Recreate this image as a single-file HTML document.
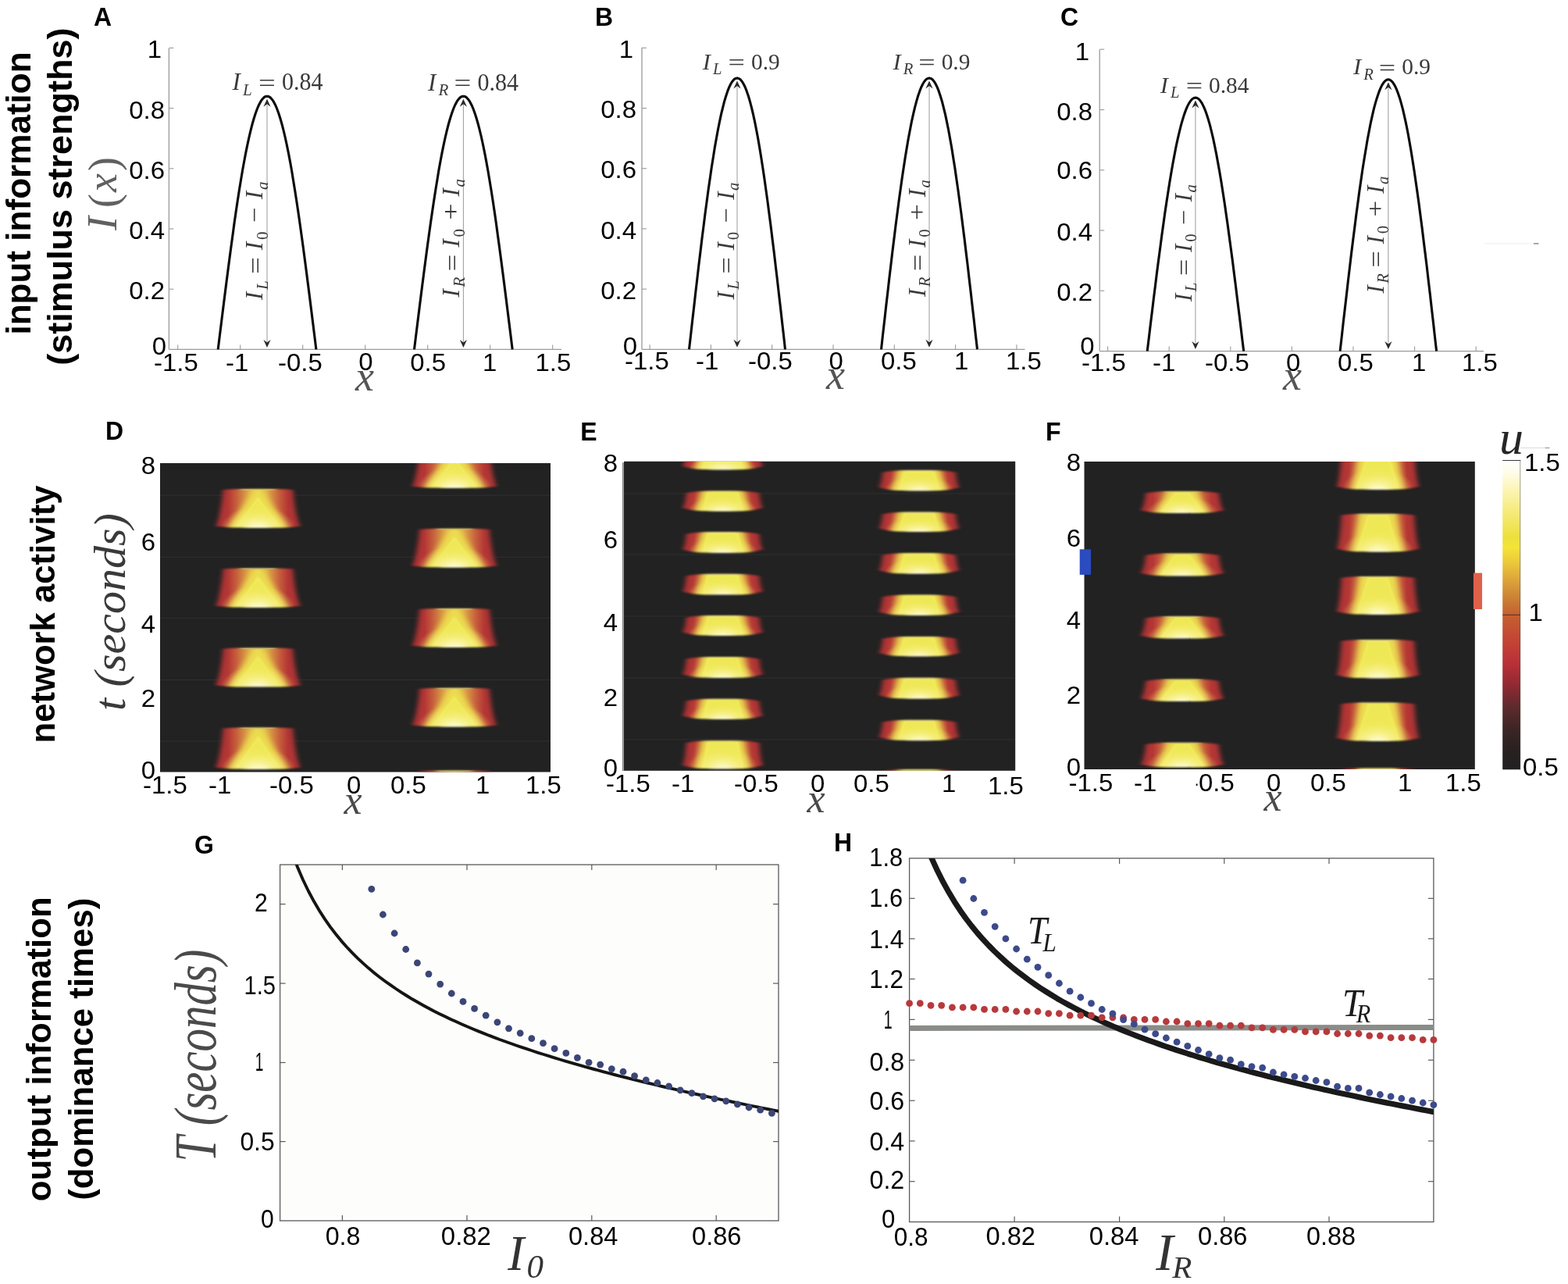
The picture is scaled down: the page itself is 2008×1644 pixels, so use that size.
<!DOCTYPE html>
<html><head><meta charset="utf-8"><title>Figure</title>
<style>
html,body{margin:0;padding:0;background:#fff;}
body{width:2008px;height:1644px;overflow:hidden;}
svg{display:block;}
</style></head>
<body>
<svg width="2008" height="1644" viewBox="0 0 2008 1644">
<rect width="2008" height="1644" fill="#ffffff"/>

<defs>
<linearGradient id="gh" x1="0" y1="0" x2="1" y2="0">
<stop offset="0" stop-color="#9c2e30"/>
<stop offset="0.08" stop-color="#b03436"/>
<stop offset="0.18" stop-color="#b43634"/>
<stop offset="0.27" stop-color="#c65e3c"/>
<stop offset="0.35" stop-color="#d48c42"/>
<stop offset="0.42" stop-color="#e2b448"/>
<stop offset="0.50" stop-color="#eacc4c"/>
<stop offset="0.58" stop-color="#e2b448"/>
<stop offset="0.65" stop-color="#d48c42"/>
<stop offset="0.73" stop-color="#c65e3c"/>
<stop offset="0.82" stop-color="#b43634"/>
<stop offset="0.92" stop-color="#b03436"/>
<stop offset="1" stop-color="#9c2e30"/>
</linearGradient>
<linearGradient id="gy" x1="0" y1="0" x2="1" y2="0">
<stop offset="0" stop-color="#f0e048" stop-opacity="0"/>
<stop offset="0.22" stop-color="#f0e048" stop-opacity="1"/>
<stop offset="0.78" stop-color="#f0e048" stop-opacity="1"/>
<stop offset="1" stop-color="#f0e048" stop-opacity="0"/>
</linearGradient>
<radialGradient id="gw" cx="0.5" cy="1" r="0.5" gradientTransform="translate(0.5 1) scale(1 1.5) translate(-0.5 -1)">
<stop offset="0" stop-color="#fffde4" stop-opacity="1"/>
<stop offset="0.2" stop-color="#fdf9c0" stop-opacity="0.95"/>
<stop offset="0.45" stop-color="#f9f294" stop-opacity="0.75"/>
<stop offset="0.75" stop-color="#f5ec70" stop-opacity="0.35"/>
<stop offset="1" stop-color="#f2e858" stop-opacity="0"/>
</radialGradient>
<linearGradient id="gcb" x1="0" y1="0" x2="0" y2="1">
<stop offset="0" stop-color="#ffffff"/>
<stop offset="0.04" stop-color="#fffce8"/>
<stop offset="0.10" stop-color="#fcf4b0"/>
<stop offset="0.18" stop-color="#f4e870"/>
<stop offset="0.25" stop-color="#ece03c"/>
<stop offset="0.28" stop-color="#f4e438"/>
<stop offset="0.33" stop-color="#ecc83c"/>
<stop offset="0.40" stop-color="#d89c3a"/>
<stop offset="0.46" stop-color="#c87834"/>
<stop offset="0.50" stop-color="#c46030"/>
<stop offset="0.58" stop-color="#c44434"/>
<stop offset="0.66" stop-color="#b83038"/>
<stop offset="0.72" stop-color="#942a34"/>
<stop offset="0.80" stop-color="#5c2a2c"/>
<stop offset="0.88" stop-color="#382424"/>
<stop offset="0.95" stop-color="#262020"/>
<stop offset="1" stop-color="#222222"/>
</linearGradient>
<filter id="bl" x="-10%" y="-20%" width="120%" height="140%"><feGaussianBlur stdDeviation="3.2 1.0"/></filter>
<filter id="bl2" x="-30%" y="-30%" width="160%" height="160%"><feGaussianBlur stdDeviation="4.5 2"/></filter>
<filter id="bl4" x="-30%" y="-300%" width="160%" height="700%"><feGaussianBlur stdDeviation="3 0.7"/></filter>
<filter id="bl3" x="-20%" y="-20%" width="140%" height="140%"><feGaussianBlur stdDeviation="0.8"/></filter>
</defs>

<text transform="translate(38.6 428.6) rotate(-90) scale(0.9797242497972424 1)" font-family='"Liberation Sans", "DejaVu Sans", sans-serif' font-size="45" font-weight="bold" font-style="normal" text-anchor="start" fill="#000" >input information</text>
<text transform="translate(91.8 467.8) rotate(-90) scale(0.9996243317439676 1)" font-family='"Liberation Sans", "DejaVu Sans", sans-serif' font-size="45" font-weight="bold" font-style="normal" text-anchor="start" fill="#000" >(stimulus strengths)</text>
<text transform="translate(70.0 951.5) rotate(-90) scale(0.9812411957762026 1)" font-family='"Liberation Sans", "DejaVu Sans", sans-serif' font-size="44.5" font-weight="bold" font-style="normal" text-anchor="start" fill="#000" >network activity</text>
<text transform="translate(64.9 1538.2) rotate(-90) scale(0.9866148327249166 1)" font-family='"Liberation Sans", "DejaVu Sans", sans-serif' font-size="44.5" font-weight="bold" font-style="normal" text-anchor="start" fill="#000" >output information</text>
<text transform="translate(118.9 1536.8) rotate(-90) scale(0.9853557416556976 1)" font-family='"Liberation Sans", "DejaVu Sans", sans-serif' font-size="44.5" font-weight="bold" font-style="normal" text-anchor="start" fill="#000" >(dominance times)</text>
<text transform="translate(120.0 33.0) scale(0.97 1)" font-family='"Liberation Sans", "DejaVu Sans", sans-serif' font-size="33" font-weight="bold" font-style="normal" text-anchor="start" fill="#000" >A</text>
<text transform="translate(762.0 33.0) scale(0.97 1)" font-family='"Liberation Sans", "DejaVu Sans", sans-serif' font-size="33" font-weight="bold" font-style="normal" text-anchor="start" fill="#000" >B</text>
<text transform="translate(1358.0 33.0) scale(0.97 1)" font-family='"Liberation Sans", "DejaVu Sans", sans-serif' font-size="33" font-weight="bold" font-style="normal" text-anchor="start" fill="#000" >C</text>
<text transform="translate(135.0 563.0) scale(0.97 1)" font-family='"Liberation Sans", "DejaVu Sans", sans-serif' font-size="33" font-weight="bold" font-style="normal" text-anchor="start" fill="#000" >D</text>
<text transform="translate(743.3 563.7) scale(0.97 1)" font-family='"Liberation Sans", "DejaVu Sans", sans-serif' font-size="33" font-weight="bold" font-style="normal" text-anchor="start" fill="#000" >E</text>
<text transform="translate(1339.0 563.7) scale(0.97 1)" font-family='"Liberation Sans", "DejaVu Sans", sans-serif' font-size="33" font-weight="bold" font-style="normal" text-anchor="start" fill="#000" >F</text>
<text transform="translate(249.0 1093.0) scale(0.97 1)" font-family='"Liberation Sans", "DejaVu Sans", sans-serif' font-size="33" font-weight="bold" font-style="normal" text-anchor="start" fill="#000" >G</text>
<text transform="translate(1068.0 1090.0) scale(0.97 1)" font-family='"Liberation Sans", "DejaVu Sans", sans-serif' font-size="33" font-weight="bold" font-style="normal" text-anchor="start" fill="#000" >H</text>
<line x1="216.4" y1="61.8" x2="216.4" y2="447.4" stroke="#9a9a9a" stroke-width="1.3" />
<line x1="216.4" y1="447.4" x2="719.0" y2="447.4" stroke="#9a9a9a" stroke-width="1.3" />
<line x1="216.4" y1="370.2" x2="222.4" y2="370.2" stroke="#9a9a9a" stroke-width="1.1" />
<line x1="216.4" y1="293.0" x2="222.4" y2="293.0" stroke="#9a9a9a" stroke-width="1.1" />
<line x1="216.4" y1="215.8" x2="222.4" y2="215.8" stroke="#9a9a9a" stroke-width="1.1" />
<line x1="216.4" y1="138.6" x2="222.4" y2="138.6" stroke="#9a9a9a" stroke-width="1.1" />
<line x1="216.4" y1="61.4" x2="222.4" y2="61.4" stroke="#9a9a9a" stroke-width="1.1" />
<line x1="227.7" y1="447.4" x2="227.7" y2="441.4" stroke="#9a9a9a" stroke-width="1.1" />
<line x1="307.7" y1="447.4" x2="307.7" y2="441.4" stroke="#9a9a9a" stroke-width="1.1" />
<line x1="387.7" y1="447.4" x2="387.7" y2="441.4" stroke="#9a9a9a" stroke-width="1.1" />
<line x1="467.7" y1="447.4" x2="467.7" y2="441.4" stroke="#9a9a9a" stroke-width="1.1" />
<line x1="547.7" y1="447.4" x2="547.7" y2="441.4" stroke="#9a9a9a" stroke-width="1.1" />
<line x1="627.7" y1="447.4" x2="627.7" y2="441.4" stroke="#9a9a9a" stroke-width="1.1" />
<line x1="707.7" y1="447.4" x2="707.7" y2="441.4" stroke="#9a9a9a" stroke-width="1.1" />
<path d="M279.2,447.4 L281.3,430.4 L283.4,413.5 L285.5,396.7 L287.6,380.0 L289.7,363.5 L291.8,347.2 L293.9,331.2 L296.0,315.5 L298.1,300.2 L300.1,285.3 L302.2,270.8 L304.3,256.8 L306.4,243.3 L308.5,230.4 L310.6,218.1 L312.7,206.4 L314.8,195.4 L316.9,185.1 L319.0,175.5 L321.1,166.6 L323.2,158.5 L325.3,151.2 L327.4,144.7 L329.5,139.0 L331.6,134.2 L333.7,130.2 L335.8,127.2 L337.8,124.9 L339.9,123.6 L342.0,123.2 L344.1,123.6 L346.2,124.9 L348.3,127.2 L350.4,130.2 L352.5,134.2 L354.6,139.0 L356.7,144.7 L358.8,151.2 L360.9,158.5 L363.0,166.6 L365.1,175.5 L367.2,185.1 L369.3,195.4 L371.4,206.4 L373.5,218.1 L375.5,230.4 L377.6,243.3 L379.7,256.8 L381.8,270.8 L383.9,285.3 L386.0,300.2 L388.1,315.5 L390.2,331.2 L392.3,347.2 L394.4,363.5 L396.5,380.0 L398.6,396.7 L400.7,413.5 L402.8,430.4 L404.9,447.4" fill="none" stroke="#0a0a0a" stroke-width="3.1" stroke-linejoin="round"/>
<line x1="342.0" y1="129.7" x2="342.0" y2="441.9" stroke="#9a9a9a" stroke-width="1.0" />
<path d="M337.4,136.7 L342.0,126.7 L346.6,136.7 L342.0,133.2 Z" fill="#2a2a2a" stroke="none"/>
<path d="M337.4,434.9 L342.0,444.9 L346.6,434.9 L342.0,438.4 Z" fill="#2a2a2a" stroke="none"/>
<path d="M530.5,447.4 L532.6,430.4 L534.7,413.5 L536.8,396.7 L538.9,380.0 L541.0,363.5 L543.1,347.2 L545.2,331.2 L547.3,315.5 L549.4,300.2 L551.5,285.3 L553.6,270.8 L555.7,256.8 L557.8,243.3 L559.9,230.4 L561.9,218.1 L564.0,206.4 L566.1,195.4 L568.2,185.1 L570.3,175.5 L572.4,166.6 L574.5,158.5 L576.6,151.2 L578.7,144.7 L580.8,139.0 L582.9,134.2 L585.0,130.2 L587.1,127.2 L589.2,124.9 L591.3,123.6 L593.4,123.2 L595.5,123.6 L597.6,124.9 L599.6,127.2 L601.7,130.2 L603.8,134.2 L605.9,139.0 L608.0,144.7 L610.1,151.2 L612.2,158.5 L614.3,166.6 L616.4,175.5 L618.5,185.1 L620.6,195.4 L622.7,206.4 L624.8,218.1 L626.9,230.4 L629.0,243.3 L631.1,256.8 L633.2,270.8 L635.3,285.3 L637.3,300.2 L639.4,315.5 L641.5,331.2 L643.6,347.2 L645.7,363.5 L647.8,380.0 L649.9,396.7 L652.0,413.5 L654.1,430.4 L656.2,447.4" fill="none" stroke="#0a0a0a" stroke-width="3.1" stroke-linejoin="round"/>
<line x1="593.4" y1="129.7" x2="593.4" y2="441.9" stroke="#9a9a9a" stroke-width="1.0" />
<path d="M588.8,136.7 L593.4,126.7 L598.0,136.7 L593.4,133.2 Z" fill="#2a2a2a" stroke="none"/>
<path d="M588.8,434.9 L593.4,444.9 L598.0,434.9 L593.4,438.4 Z" fill="#2a2a2a" stroke="none"/>
<text transform="translate(197.0 475.0) scale(1.03 1)" font-family='"Liberation Sans", "DejaVu Sans", sans-serif' font-size="32" font-weight="normal" font-style="normal" text-anchor="start" fill="#000" >-1.5</text>
<text transform="translate(289.0 475.0) scale(1.03 1)" font-family='"Liberation Sans", "DejaVu Sans", sans-serif' font-size="32" font-weight="normal" font-style="normal" text-anchor="start" fill="#000" >-1</text>
<text transform="translate(356.0 475.0) scale(1.03 1)" font-family='"Liberation Sans", "DejaVu Sans", sans-serif' font-size="32" font-weight="normal" font-style="normal" text-anchor="start" fill="#000" >-0.5</text>
<text transform="translate(459.3 474.0) scale(1.03 1)" font-family='"Liberation Sans", "DejaVu Sans", sans-serif' font-size="32" font-weight="normal" font-style="normal" text-anchor="start" fill="#000" >0</text>
<text transform="translate(525.3 475.0) scale(1.03 1)" font-family='"Liberation Sans", "DejaVu Sans", sans-serif' font-size="32" font-weight="normal" font-style="normal" text-anchor="start" fill="#000" >0.5</text>
<text transform="translate(618.0 475.0) scale(1.03 1)" font-family='"Liberation Sans", "DejaVu Sans", sans-serif' font-size="32" font-weight="normal" font-style="normal" text-anchor="start" fill="#000" >1</text>
<text transform="translate(685.4 475.0) scale(1.03 1)" font-family='"Liberation Sans", "DejaVu Sans", sans-serif' font-size="32" font-weight="normal" font-style="normal" text-anchor="start" fill="#000" >1.5</text>
<text transform="translate(207.0 74.0) scale(1.03 1)" font-family='"Liberation Sans", "DejaVu Sans", sans-serif' font-size="32" font-weight="normal" font-style="normal" text-anchor="end" fill="#000" >1</text>
<text transform="translate(211.0 151.5) scale(1.03 1)" font-family='"Liberation Sans", "DejaVu Sans", sans-serif' font-size="32" font-weight="normal" font-style="normal" text-anchor="end" fill="#000" >0.8</text>
<text transform="translate(211.0 228.5) scale(1.03 1)" font-family='"Liberation Sans", "DejaVu Sans", sans-serif' font-size="32" font-weight="normal" font-style="normal" text-anchor="end" fill="#000" >0.6</text>
<text transform="translate(211.0 306.0) scale(1.03 1)" font-family='"Liberation Sans", "DejaVu Sans", sans-serif' font-size="32" font-weight="normal" font-style="normal" text-anchor="end" fill="#000" >0.4</text>
<text transform="translate(211.0 383.0) scale(1.03 1)" font-family='"Liberation Sans", "DejaVu Sans", sans-serif' font-size="32" font-weight="normal" font-style="normal" text-anchor="end" fill="#000" >0.2</text>
<text transform="translate(213.0 454.0) scale(1.03 1)" font-family='"Liberation Sans", "DejaVu Sans", sans-serif' font-size="32" font-weight="normal" font-style="normal" text-anchor="end" fill="#000" >0</text>
<text transform="translate(467.0 500.4)" font-family='"Liberation Serif", "DejaVu Serif", serif' font-size="54" font-weight="normal" font-style="italic" text-anchor="middle" fill="#555" >x</text>
<g transform="translate(297.5 115.0)" font-family='"Liberation Serif", "DejaVu Serif", serif' fill="#3a3a3a">
<text transform="translate(0.0 0.0)" font-size="31" font-style="italic">I</text>
<text transform="translate(13.5 6.5)" font-size="21" font-style="italic">L</text>
<text transform="translate(33.5 1.5) scale(1.25 1)" font-size="31" font-style="normal">=</text>
<text transform="translate(63.5 0.0) scale(0.97 1)" font-size="31" font-style="normal">0.84</text>
</g>
<g transform="translate(548.0 115.5)" font-family='"Liberation Serif", "DejaVu Serif", serif' fill="#3a3a3a">
<text transform="translate(0.0 0.0)" font-size="31" font-style="italic">I</text>
<text transform="translate(13.5 6.5)" font-size="21" font-style="italic">R</text>
<text transform="translate(33.5 1.5) scale(1.25 1)" font-size="31" font-style="normal">=</text>
<text transform="translate(63.5 0.0) scale(0.97 1)" font-size="31" font-style="normal">0.84</text>
</g>
<g transform="translate(336.4 384.0) rotate(-90)" font-family='"Liberation Serif", "DejaVu Serif", serif' fill="#3a3a3a">
<text transform="translate(0.0 0.0)" font-size="31" font-style="italic">I</text>
<text transform="translate(13.0 6.5)" font-size="21" font-style="italic">L</text>
<text transform="translate(33.0 1.5) scale(1.25 1)" font-size="31" font-style="normal">=</text>
<text transform="translate(64.0 0.0)" font-size="31" font-style="italic">I</text>
<text transform="translate(77.0 6.5)" font-size="21" font-style="normal">0</text>
<text transform="translate(99.0 0.0) scale(1.12 1)" font-size="31" font-style="normal">−</text>
<text transform="translate(129.0 0.0)" font-size="31" font-style="italic">I</text>
<text transform="translate(141.0 6.5)" font-size="21" font-style="italic">a</text>
</g>
<g transform="translate(588.0 380.5) rotate(-90)" font-family='"Liberation Serif", "DejaVu Serif", serif' fill="#3a3a3a">
<text transform="translate(0.0 0.0)" font-size="31" font-style="italic">I</text>
<text transform="translate(13.0 6.5)" font-size="21" font-style="italic">R</text>
<text transform="translate(33.0 1.5) scale(1.25 1)" font-size="31" font-style="normal">=</text>
<text transform="translate(64.0 0.0)" font-size="31" font-style="italic">I</text>
<text transform="translate(77.0 6.5)" font-size="21" font-style="normal">0</text>
<text transform="translate(99.0 0.0) scale(1.2 1)" font-size="31" font-style="normal">+</text>
<text transform="translate(129.0 0.0)" font-size="31" font-style="italic">I</text>
<text transform="translate(141.0 6.5)" font-size="21" font-style="italic">a</text>
</g>
<g transform="translate(148.5 296.0) rotate(-90)" font-family='"Liberation Serif", "DejaVu Serif", serif' fill="#606060">
<text transform="translate(1.0 0.0)" font-size="54" font-style="italic">I</text>
<text transform="translate(30.0 2.0)" font-size="54" font-style="normal">(</text>
<text transform="translate(50.0 0.0)" font-size="54" font-style="italic">x</text>
<text transform="translate(77.0 2.0)" font-size="54" font-style="normal">)</text>
</g>
<line x1="822.0" y1="61.0" x2="822.0" y2="447.3" stroke="#9a9a9a" stroke-width="1.3" />
<line x1="822.0" y1="447.3" x2="1312.5" y2="447.3" stroke="#9a9a9a" stroke-width="1.3" />
<line x1="822.0" y1="370.1" x2="828.0" y2="370.1" stroke="#9a9a9a" stroke-width="1.1" />
<line x1="822.0" y1="292.9" x2="828.0" y2="292.9" stroke="#9a9a9a" stroke-width="1.1" />
<line x1="822.0" y1="215.7" x2="828.0" y2="215.7" stroke="#9a9a9a" stroke-width="1.1" />
<line x1="822.0" y1="138.5" x2="828.0" y2="138.5" stroke="#9a9a9a" stroke-width="1.1" />
<line x1="822.0" y1="61.3" x2="828.0" y2="61.3" stroke="#9a9a9a" stroke-width="1.1" />
<line x1="832.1" y1="447.3" x2="832.1" y2="441.3" stroke="#9a9a9a" stroke-width="1.1" />
<line x1="910.4" y1="447.3" x2="910.4" y2="441.3" stroke="#9a9a9a" stroke-width="1.1" />
<line x1="988.7" y1="447.3" x2="988.7" y2="441.3" stroke="#9a9a9a" stroke-width="1.1" />
<line x1="1067.0" y1="447.3" x2="1067.0" y2="441.3" stroke="#9a9a9a" stroke-width="1.1" />
<line x1="1145.3" y1="447.3" x2="1145.3" y2="441.3" stroke="#9a9a9a" stroke-width="1.1" />
<line x1="1223.6" y1="447.3" x2="1223.6" y2="441.3" stroke="#9a9a9a" stroke-width="1.1" />
<line x1="1301.9" y1="447.3" x2="1301.9" y2="441.3" stroke="#9a9a9a" stroke-width="1.1" />
<path d="M882.5,447.3 L884.6,429.1 L886.6,411.0 L888.7,393.0 L890.7,375.1 L892.8,357.4 L894.8,339.9 L896.9,322.8 L898.9,306.0 L901.0,289.6 L903.0,273.6 L905.1,258.1 L907.1,243.1 L909.2,228.7 L911.2,214.8 L913.3,201.7 L915.3,189.1 L917.4,177.3 L919.4,166.2 L921.5,155.9 L923.5,146.4 L925.6,137.8 L927.6,129.9 L929.7,123.0 L931.7,116.9 L933.8,111.7 L935.8,107.5 L937.9,104.2 L939.9,101.8 L942.0,100.4 L944.0,99.9 L946.1,100.4 L948.1,101.8 L950.2,104.2 L952.2,107.5 L954.3,111.7 L956.3,116.9 L958.4,123.0 L960.4,129.9 L962.5,137.8 L964.5,146.4 L966.6,155.9 L968.6,166.2 L970.7,177.3 L972.7,189.1 L974.8,201.7 L976.8,214.8 L978.9,228.7 L980.9,243.1 L983.0,258.1 L985.0,273.6 L987.1,289.6 L989.1,306.0 L991.2,322.8 L993.2,339.9 L995.3,357.4 L997.3,375.1 L999.4,393.0 L1001.4,411.0 L1003.5,429.1 L1005.5,447.3" fill="none" stroke="#0a0a0a" stroke-width="3.1" stroke-linejoin="round"/>
<line x1="944.0" y1="106.4" x2="944.0" y2="441.8" stroke="#9a9a9a" stroke-width="1.0" />
<path d="M939.4,113.4 L944.0,103.4 L948.6,113.4 L944.0,109.9 Z" fill="#2a2a2a" stroke="none"/>
<path d="M939.4,434.8 L944.0,444.8 L948.6,434.8 L944.0,438.3 Z" fill="#2a2a2a" stroke="none"/>
<path d="M1128.5,447.3 L1130.5,429.1 L1132.6,411.0 L1134.6,393.0 L1136.7,375.1 L1138.7,357.4 L1140.8,339.9 L1142.8,322.8 L1144.9,306.0 L1146.9,289.6 L1149.0,273.6 L1151.0,258.1 L1153.1,243.1 L1155.1,228.7 L1157.2,214.8 L1159.2,201.7 L1161.3,189.1 L1163.3,177.3 L1165.4,166.2 L1167.4,155.9 L1169.5,146.4 L1171.5,137.8 L1173.6,129.9 L1175.6,123.0 L1177.7,116.9 L1179.7,111.7 L1181.8,107.5 L1183.8,104.2 L1185.9,101.8 L1187.9,100.4 L1190.0,99.9 L1192.0,100.4 L1194.1,101.8 L1196.1,104.2 L1198.2,107.5 L1200.2,111.7 L1202.3,116.9 L1204.3,123.0 L1206.4,129.9 L1208.4,137.8 L1210.5,146.4 L1212.5,155.9 L1214.6,166.2 L1216.6,177.3 L1218.7,189.1 L1220.7,201.7 L1222.8,214.8 L1224.8,228.7 L1226.9,243.1 L1228.9,258.1 L1231.0,273.6 L1233.0,289.6 L1235.1,306.0 L1237.1,322.8 L1239.2,339.9 L1241.2,357.4 L1243.3,375.1 L1245.3,393.0 L1247.4,411.0 L1249.4,429.1 L1251.5,447.3" fill="none" stroke="#0a0a0a" stroke-width="3.1" stroke-linejoin="round"/>
<line x1="1190.0" y1="106.4" x2="1190.0" y2="441.8" stroke="#9a9a9a" stroke-width="1.0" />
<path d="M1185.4,113.4 L1190.0,103.4 L1194.6,113.4 L1190.0,109.9 Z" fill="#2a2a2a" stroke="none"/>
<path d="M1185.4,434.8 L1190.0,444.8 L1194.6,434.8 L1190.0,438.3 Z" fill="#2a2a2a" stroke="none"/>
<text transform="translate(800.0 473.3) scale(1.03 1)" font-family='"Liberation Sans", "DejaVu Sans", sans-serif' font-size="32" font-weight="normal" font-style="normal" text-anchor="start" fill="#000" >-1.5</text>
<text transform="translate(891.0 473.3) scale(1.03 1)" font-family='"Liberation Sans", "DejaVu Sans", sans-serif' font-size="32" font-weight="normal" font-style="normal" text-anchor="start" fill="#000" >-1</text>
<text transform="translate(958.0 473.3) scale(1.03 1)" font-family='"Liberation Sans", "DejaVu Sans", sans-serif' font-size="32" font-weight="normal" font-style="normal" text-anchor="start" fill="#000" >-0.5</text>
<text transform="translate(1061.5 473.3) scale(1.03 1)" font-family='"Liberation Sans", "DejaVu Sans", sans-serif' font-size="32" font-weight="normal" font-style="normal" text-anchor="start" fill="#000" >0</text>
<text transform="translate(1128.0 473.3) scale(1.03 1)" font-family='"Liberation Sans", "DejaVu Sans", sans-serif' font-size="32" font-weight="normal" font-style="normal" text-anchor="start" fill="#000" >0.5</text>
<text transform="translate(1222.0 473.3) scale(1.03 1)" font-family='"Liberation Sans", "DejaVu Sans", sans-serif' font-size="32" font-weight="normal" font-style="normal" text-anchor="start" fill="#000" >1</text>
<text transform="translate(1288.0 473.3) scale(1.03 1)" font-family='"Liberation Sans", "DejaVu Sans", sans-serif' font-size="32" font-weight="normal" font-style="normal" text-anchor="start" fill="#000" >1.5</text>
<text transform="translate(811.0 74.0) scale(1.03 1)" font-family='"Liberation Sans", "DejaVu Sans", sans-serif' font-size="32" font-weight="normal" font-style="normal" text-anchor="end" fill="#000" >1</text>
<text transform="translate(815.0 151.0) scale(1.03 1)" font-family='"Liberation Sans", "DejaVu Sans", sans-serif' font-size="32" font-weight="normal" font-style="normal" text-anchor="end" fill="#000" >0.8</text>
<text transform="translate(815.0 228.0) scale(1.03 1)" font-family='"Liberation Sans", "DejaVu Sans", sans-serif' font-size="32" font-weight="normal" font-style="normal" text-anchor="end" fill="#000" >0.6</text>
<text transform="translate(815.0 306.0) scale(1.03 1)" font-family='"Liberation Sans", "DejaVu Sans", sans-serif' font-size="32" font-weight="normal" font-style="normal" text-anchor="end" fill="#000" >0.4</text>
<text transform="translate(815.0 383.0) scale(1.03 1)" font-family='"Liberation Sans", "DejaVu Sans", sans-serif' font-size="32" font-weight="normal" font-style="normal" text-anchor="end" fill="#000" >0.2</text>
<text transform="translate(816.0 453.5) scale(1.03 1)" font-family='"Liberation Sans", "DejaVu Sans", sans-serif' font-size="32" font-weight="normal" font-style="normal" text-anchor="end" fill="#000" >0</text>
<text transform="translate(1070.0 498.3)" font-family='"Liberation Serif", "DejaVu Serif", serif' font-size="54" font-weight="normal" font-style="italic" text-anchor="middle" fill="#555" >x</text>
<g transform="translate(899.7 89.0) scale(0.98)" font-family='"Liberation Serif", "DejaVu Serif", serif' fill="#3a3a3a">
<text transform="translate(0.0 0.0)" font-size="31" font-style="italic">I</text>
<text transform="translate(13.5 6.5)" font-size="21" font-style="italic">L</text>
<text transform="translate(33.5 1.5) scale(1.25 1)" font-size="31" font-style="normal">=</text>
<text transform="translate(63.5 0.0) scale(0.97 1)" font-size="31" font-style="normal">0.9</text>
</g>
<g transform="translate(1143.4 89.0) scale(0.98)" font-family='"Liberation Serif", "DejaVu Serif", serif' fill="#3a3a3a">
<text transform="translate(0.0 0.0)" font-size="31" font-style="italic">I</text>
<text transform="translate(13.5 6.5)" font-size="21" font-style="italic">R</text>
<text transform="translate(33.5 1.5) scale(1.25 1)" font-size="31" font-style="normal">=</text>
<text transform="translate(63.5 0.0) scale(0.97 1)" font-size="31" font-style="normal">0.9</text>
</g>
<g transform="translate(939.5 383.5) rotate(-90) scale(0.99)" font-family='"Liberation Serif", "DejaVu Serif", serif' fill="#3a3a3a">
<text transform="translate(0.0 0.0)" font-size="31" font-style="italic">I</text>
<text transform="translate(13.0 6.5)" font-size="21" font-style="italic">L</text>
<text transform="translate(33.0 1.5) scale(1.25 1)" font-size="31" font-style="normal">=</text>
<text transform="translate(64.0 0.0)" font-size="31" font-style="italic">I</text>
<text transform="translate(77.0 6.5)" font-size="21" font-style="normal">0</text>
<text transform="translate(99.0 0.0) scale(1.12 1)" font-size="31" font-style="normal">−</text>
<text transform="translate(129.0 0.0)" font-size="31" font-style="italic">I</text>
<text transform="translate(141.0 6.5)" font-size="21" font-style="italic">a</text>
</g>
<g transform="translate(1184.5 380.0) rotate(-90) scale(0.99)" font-family='"Liberation Serif", "DejaVu Serif", serif' fill="#3a3a3a">
<text transform="translate(0.0 0.0)" font-size="31" font-style="italic">I</text>
<text transform="translate(13.0 6.5)" font-size="21" font-style="italic">R</text>
<text transform="translate(33.0 1.5) scale(1.25 1)" font-size="31" font-style="normal">=</text>
<text transform="translate(64.0 0.0)" font-size="31" font-style="italic">I</text>
<text transform="translate(77.0 6.5)" font-size="21" font-style="normal">0</text>
<text transform="translate(99.0 0.0) scale(1.2 1)" font-size="31" font-style="normal">+</text>
<text transform="translate(129.0 0.0)" font-size="31" font-style="italic">I</text>
<text transform="translate(141.0 6.5)" font-size="21" font-style="italic">a</text>
</g>
<line x1="1408.2" y1="63.5" x2="1408.2" y2="449.6" stroke="#9a9a9a" stroke-width="1.3" />
<line x1="1408.2" y1="449.6" x2="1900.0" y2="449.6" stroke="#9a9a9a" stroke-width="1.3" />
<line x1="1408.2" y1="372.3" x2="1414.2" y2="372.3" stroke="#9a9a9a" stroke-width="1.1" />
<line x1="1408.2" y1="295.0" x2="1414.2" y2="295.0" stroke="#9a9a9a" stroke-width="1.1" />
<line x1="1408.2" y1="217.8" x2="1414.2" y2="217.8" stroke="#9a9a9a" stroke-width="1.1" />
<line x1="1408.2" y1="140.5" x2="1414.2" y2="140.5" stroke="#9a9a9a" stroke-width="1.1" />
<line x1="1408.2" y1="63.2" x2="1414.2" y2="63.2" stroke="#9a9a9a" stroke-width="1.1" />
<line x1="1418.6" y1="449.6" x2="1418.6" y2="443.6" stroke="#9a9a9a" stroke-width="1.1" />
<line x1="1497.2" y1="449.6" x2="1497.2" y2="443.6" stroke="#9a9a9a" stroke-width="1.1" />
<line x1="1575.8" y1="449.6" x2="1575.8" y2="443.6" stroke="#9a9a9a" stroke-width="1.1" />
<line x1="1654.4" y1="449.6" x2="1654.4" y2="443.6" stroke="#9a9a9a" stroke-width="1.1" />
<line x1="1733.0" y1="449.6" x2="1733.0" y2="443.6" stroke="#9a9a9a" stroke-width="1.1" />
<line x1="1811.6" y1="449.6" x2="1811.6" y2="443.6" stroke="#9a9a9a" stroke-width="1.1" />
<line x1="1890.2" y1="449.6" x2="1890.2" y2="443.6" stroke="#9a9a9a" stroke-width="1.1" />
<path d="M1469.2,449.6 L1471.3,432.6 L1473.3,415.7 L1475.4,398.8 L1477.4,382.1 L1479.5,365.6 L1481.5,349.3 L1483.6,333.3 L1485.7,317.6 L1487.7,302.2 L1489.8,287.3 L1491.8,272.8 L1493.9,258.8 L1496.0,245.3 L1498.0,232.4 L1500.1,220.1 L1502.1,208.4 L1504.2,197.4 L1506.2,187.0 L1508.3,177.4 L1510.4,168.5 L1512.4,160.4 L1514.5,153.1 L1516.5,146.6 L1518.6,140.9 L1520.6,136.1 L1522.7,132.1 L1524.8,129.0 L1526.8,126.8 L1528.9,125.5 L1530.9,125.0 L1533.0,125.5 L1535.1,126.8 L1537.1,129.0 L1539.2,132.1 L1541.2,136.1 L1543.3,140.9 L1545.3,146.6 L1547.4,153.1 L1549.5,160.4 L1551.5,168.5 L1553.6,177.4 L1555.6,187.0 L1557.7,197.4 L1559.7,208.4 L1561.8,220.1 L1563.9,232.4 L1565.9,245.3 L1568.0,258.8 L1570.0,272.8 L1572.1,287.3 L1574.1,302.2 L1576.2,317.6 L1578.3,333.3 L1580.3,349.3 L1582.4,365.6 L1584.4,382.1 L1586.5,398.8 L1588.6,415.7 L1590.6,432.6 L1592.7,449.6" fill="none" stroke="#0a0a0a" stroke-width="3.1" stroke-linejoin="round"/>
<line x1="1530.9" y1="131.5" x2="1530.9" y2="444.1" stroke="#9a9a9a" stroke-width="1.0" />
<path d="M1526.3,138.5 L1530.9,128.5 L1535.5,138.5 L1530.9,135.0 Z" fill="#2a2a2a" stroke="none"/>
<path d="M1526.3,437.1 L1530.9,447.1 L1535.5,437.1 L1530.9,440.6 Z" fill="#2a2a2a" stroke="none"/>
<path d="M1716.1,449.6 L1718.2,431.4 L1720.2,413.2 L1722.3,395.2 L1724.4,377.3 L1726.4,359.6 L1728.5,342.1 L1730.5,325.0 L1732.6,308.2 L1734.7,291.7 L1736.7,275.7 L1738.8,260.2 L1740.8,245.2 L1742.9,230.7 L1744.9,216.9 L1747.0,203.7 L1749.1,191.2 L1751.1,179.3 L1753.2,168.3 L1755.2,157.9 L1757.3,148.4 L1759.3,139.7 L1761.4,131.9 L1763.5,124.9 L1765.5,118.9 L1767.6,113.7 L1769.6,109.4 L1771.7,106.1 L1773.7,103.7 L1775.8,102.3 L1777.9,101.8 L1779.9,102.3 L1782.0,103.7 L1784.0,106.1 L1786.1,109.4 L1788.2,113.7 L1790.2,118.9 L1792.3,124.9 L1794.3,131.9 L1796.4,139.7 L1798.4,148.4 L1800.5,157.9 L1802.6,168.3 L1804.6,179.3 L1806.7,191.2 L1808.7,203.7 L1810.8,216.9 L1812.8,230.7 L1814.9,245.2 L1817.0,260.2 L1819.0,275.7 L1821.1,291.7 L1823.1,308.2 L1825.2,325.0 L1827.3,342.1 L1829.3,359.6 L1831.4,377.3 L1833.4,395.2 L1835.5,413.2 L1837.5,431.4 L1839.6,449.6" fill="none" stroke="#0a0a0a" stroke-width="3.1" stroke-linejoin="round"/>
<line x1="1777.9" y1="108.3" x2="1777.9" y2="444.1" stroke="#9a9a9a" stroke-width="1.0" />
<path d="M1773.3,115.3 L1777.9,105.3 L1782.5,115.3 L1777.9,111.8 Z" fill="#2a2a2a" stroke="none"/>
<path d="M1773.3,437.1 L1777.9,447.1 L1782.5,437.1 L1777.9,440.6 Z" fill="#2a2a2a" stroke="none"/>
<text transform="translate(1385.0 475.0) scale(1.03 1)" font-family='"Liberation Sans", "DejaVu Sans", sans-serif' font-size="32" font-weight="normal" font-style="normal" text-anchor="start" fill="#000" >-1.5</text>
<text transform="translate(1476.0 475.0) scale(1.03 1)" font-family='"Liberation Sans", "DejaVu Sans", sans-serif' font-size="32" font-weight="normal" font-style="normal" text-anchor="start" fill="#000" >-1</text>
<text transform="translate(1543.0 475.0) scale(1.03 1)" font-family='"Liberation Sans", "DejaVu Sans", sans-serif' font-size="32" font-weight="normal" font-style="normal" text-anchor="start" fill="#000" >-0.5</text>
<text transform="translate(1647.0 475.0) scale(1.03 1)" font-family='"Liberation Sans", "DejaVu Sans", sans-serif' font-size="32" font-weight="normal" font-style="normal" text-anchor="start" fill="#000" >0</text>
<text transform="translate(1713.0 475.0) scale(1.03 1)" font-family='"Liberation Sans", "DejaVu Sans", sans-serif' font-size="32" font-weight="normal" font-style="normal" text-anchor="start" fill="#000" >0.5</text>
<text transform="translate(1808.0 475.0) scale(1.03 1)" font-family='"Liberation Sans", "DejaVu Sans", sans-serif' font-size="32" font-weight="normal" font-style="normal" text-anchor="start" fill="#000" >1</text>
<text transform="translate(1872.0 475.0) scale(1.03 1)" font-family='"Liberation Sans", "DejaVu Sans", sans-serif' font-size="32" font-weight="normal" font-style="normal" text-anchor="start" fill="#000" >1.5</text>
<text transform="translate(1395.0 77.0) scale(1.03 1)" font-family='"Liberation Sans", "DejaVu Sans", sans-serif' font-size="32" font-weight="normal" font-style="normal" text-anchor="end" fill="#000" >1</text>
<text transform="translate(1399.0 153.5) scale(1.03 1)" font-family='"Liberation Sans", "DejaVu Sans", sans-serif' font-size="32" font-weight="normal" font-style="normal" text-anchor="end" fill="#000" >0.8</text>
<text transform="translate(1399.0 229.0) scale(1.03 1)" font-family='"Liberation Sans", "DejaVu Sans", sans-serif' font-size="32" font-weight="normal" font-style="normal" text-anchor="end" fill="#000" >0.6</text>
<text transform="translate(1399.0 308.0) scale(1.03 1)" font-family='"Liberation Sans", "DejaVu Sans", sans-serif' font-size="32" font-weight="normal" font-style="normal" text-anchor="end" fill="#000" >0.4</text>
<text transform="translate(1399.0 385.0) scale(1.03 1)" font-family='"Liberation Sans", "DejaVu Sans", sans-serif' font-size="32" font-weight="normal" font-style="normal" text-anchor="end" fill="#000" >0.2</text>
<text transform="translate(1401.5 454.0) scale(1.03 1)" font-family='"Liberation Sans", "DejaVu Sans", sans-serif' font-size="32" font-weight="normal" font-style="normal" text-anchor="end" fill="#000" >0</text>
<text transform="translate(1655.0 499.1)" font-family='"Liberation Serif", "DejaVu Serif", serif' font-size="54" font-weight="normal" font-style="italic" text-anchor="middle" fill="#555" >x</text>
<g transform="translate(1485.8 119.0) scale(0.98)" font-family='"Liberation Serif", "DejaVu Serif", serif' fill="#3a3a3a">
<text transform="translate(0.0 0.0)" font-size="31" font-style="italic">I</text>
<text transform="translate(13.5 6.5)" font-size="21" font-style="italic">L</text>
<text transform="translate(33.5 1.5) scale(1.25 1)" font-size="31" font-style="normal">=</text>
<text transform="translate(63.5 0.0) scale(0.97 1)" font-size="31" font-style="normal">0.84</text>
</g>
<g transform="translate(1733.0 95.2) scale(0.98)" font-family='"Liberation Serif", "DejaVu Serif", serif' fill="#3a3a3a">
<text transform="translate(0.0 0.0)" font-size="31" font-style="italic">I</text>
<text transform="translate(13.5 6.5)" font-size="21" font-style="italic">R</text>
<text transform="translate(33.5 1.5) scale(1.25 1)" font-size="31" font-style="normal">=</text>
<text transform="translate(63.5 0.0) scale(0.97 1)" font-size="31" font-style="normal">0.9</text>
</g>
<g transform="translate(1525.5 386.0) rotate(-90) scale(0.99)" font-family='"Liberation Serif", "DejaVu Serif", serif' fill="#3a3a3a">
<text transform="translate(0.0 0.0)" font-size="31" font-style="italic">I</text>
<text transform="translate(13.0 6.5)" font-size="21" font-style="italic">L</text>
<text transform="translate(33.0 1.5) scale(1.25 1)" font-size="31" font-style="normal">=</text>
<text transform="translate(64.0 0.0)" font-size="31" font-style="italic">I</text>
<text transform="translate(77.0 6.5)" font-size="21" font-style="normal">0</text>
<text transform="translate(99.0 0.0) scale(1.12 1)" font-size="31" font-style="normal">−</text>
<text transform="translate(129.0 0.0)" font-size="31" font-style="italic">I</text>
<text transform="translate(141.0 6.5)" font-size="21" font-style="italic">a</text>
</g>
<g transform="translate(1772.0 375.5) rotate(-90) scale(0.99)" font-family='"Liberation Serif", "DejaVu Serif", serif' fill="#3a3a3a">
<text transform="translate(0.0 0.0)" font-size="31" font-style="italic">I</text>
<text transform="translate(13.0 6.5)" font-size="21" font-style="italic">R</text>
<text transform="translate(33.0 1.5) scale(1.25 1)" font-size="31" font-style="normal">=</text>
<text transform="translate(64.0 0.0)" font-size="31" font-style="italic">I</text>
<text transform="translate(77.0 6.5)" font-size="21" font-style="normal">0</text>
<text transform="translate(99.0 0.0) scale(1.2 1)" font-size="31" font-style="normal">+</text>
<text transform="translate(129.0 0.0)" font-size="31" font-style="italic">I</text>
<text transform="translate(141.0 6.5)" font-size="21" font-style="italic">a</text>
</g>
<clipPath id="h205"><rect x="205" y="593" width="500" height="395.5"/></clipPath>
<rect x="205" y="593" width="500" height="395.5" fill="#222222"/>
<g clip-path="url(#h205)">
<line x1="205.0" y1="634.2" x2="705.0" y2="634.2" stroke="#343434" stroke-width="0.8" />
<line x1="205.0" y1="713.3" x2="705.0" y2="713.3" stroke="#343434" stroke-width="0.8" />
<line x1="205.0" y1="791.4" x2="705.0" y2="791.4" stroke="#343434" stroke-width="0.8" />
<line x1="205.0" y1="870.5" x2="705.0" y2="870.5" stroke="#343434" stroke-width="0.8" />
<line x1="205.0" y1="949.0" x2="705.0" y2="949.0" stroke="#343434" stroke-width="0.8" />
<mask id="c1" maskUnits="userSpaceOnUse" x="268.4" y="620.0" width="124.0" height="62.0"><path d="M285.9,627.2 C295.7,626.0 308.1,626.0 330.4,626.0 C352.6,626.0 365.1,626.0 374.9,627.2 C377.3,651.0 380.6,666.0 384.4,673.6 C372.5,676.0 357.4,676.0 330.4,676.0 C303.4,676.0 288.3,676.0 276.4,673.6 C280.2,666.0 283.5,651.0 285.9,627.2 Z" fill="#fff" filter="url(#bl)"/></mask>
<g mask="url(#c1)">
<rect x="270.4" y="622.0" width="120.0" height="58.0" fill="url(#gh)"/>
<g filter="url(#bl2)"><path d="M329.9,620.9 L330.9,620.9 L375.2,686.0 L285.6,686.0 Z" fill="#ecdc50"/></g>
<g filter="url(#bl3)"><path d="M330.4,638.0 L361.1,679.0 L299.6,679.0 Z" fill="#eee856" stroke="#f4ee62" stroke-width="1.6"/></g>
<rect x="281.8" y="638.0" width="97.2" height="40.0" fill="url(#gw)"/>
<g filter="url(#bl4)"><rect x="308.1" y="625.7" width="44.5" height="1.8" fill="#fae890" opacity="0.9"/></g>
</g>
<mask id="c2" maskUnits="userSpaceOnUse" x="268.4" y="721.4" width="124.0" height="62.6"><path d="M285.9,728.6 C295.7,727.4 308.1,727.4 330.4,727.4 C352.6,727.4 365.1,727.4 374.9,728.6 C377.3,752.7 380.6,767.9 384.4,775.6 C372.5,778.0 357.4,778.0 330.4,778.0 C303.4,778.0 288.3,778.0 276.4,775.6 C280.2,767.9 283.5,752.7 285.9,728.6 Z" fill="#fff" filter="url(#bl)"/></mask>
<g mask="url(#c2)">
<rect x="270.4" y="723.4" width="120.0" height="58.6" fill="url(#gh)"/>
<g filter="url(#bl2)"><path d="M329.9,722.2 L330.9,722.2 L375.1,788.0 L285.7,788.0 Z" fill="#ecdc50"/></g>
<g filter="url(#bl3)"><path d="M330.4,739.5 L361.1,781.0 L299.7,781.0 Z" fill="#eee856" stroke="#f4ee62" stroke-width="1.6"/></g>
<rect x="281.8" y="740.0" width="97.2" height="40.0" fill="url(#gw)"/>
<g filter="url(#bl4)"><rect x="308.1" y="727.1" width="44.5" height="1.8" fill="#fae890" opacity="0.9"/></g>
</g>
<mask id="c3" maskUnits="userSpaceOnUse" x="268.4" y="823.6" width="124.0" height="62.0"><path d="M285.9,830.8 C295.7,829.6 308.1,829.6 330.4,829.6 C352.6,829.6 365.1,829.6 374.9,830.8 C377.3,854.6 380.6,869.6 384.4,877.2 C372.5,879.6 357.4,879.6 330.4,879.6 C303.4,879.6 288.3,879.6 276.4,877.2 C280.2,869.6 283.5,854.6 285.9,830.8 Z" fill="#fff" filter="url(#bl)"/></mask>
<g mask="url(#c3)">
<rect x="270.4" y="825.6" width="120.0" height="58.0" fill="url(#gh)"/>
<g filter="url(#bl2)"><path d="M329.9,824.5 L330.9,824.5 L375.2,889.6 L285.6,889.6 Z" fill="#ecdc50"/></g>
<g filter="url(#bl3)"><path d="M330.4,841.6 L361.1,882.6 L299.6,882.6 Z" fill="#eee856" stroke="#f4ee62" stroke-width="1.6"/></g>
<rect x="281.8" y="841.6" width="97.2" height="40.0" fill="url(#gw)"/>
<g filter="url(#bl4)"><rect x="308.1" y="829.3" width="44.5" height="1.8" fill="#fae890" opacity="0.9"/></g>
</g>
<mask id="c4" maskUnits="userSpaceOnUse" x="268.4" y="925.4" width="124.0" height="65.6"><path d="M285.9,932.6 C295.7,931.4 308.1,931.4 330.4,931.4 C352.6,931.4 365.1,931.4 374.9,932.6 C377.3,958.2 380.6,974.3 384.4,982.6 C372.5,985.0 357.4,985.0 330.4,985.0 C303.4,985.0 288.3,985.0 276.4,982.6 C280.2,974.3 283.5,958.2 285.9,932.6 Z" fill="#fff" filter="url(#bl)"/></mask>
<g mask="url(#c4)">
<rect x="270.4" y="927.4" width="120.0" height="61.6" fill="url(#gh)"/>
<g filter="url(#bl2)"><path d="M329.9,925.9 L330.9,925.9 L374.7,995.0 L286.1,995.0 Z" fill="#ecdc50"/></g>
<g filter="url(#bl3)"><path d="M330.4,944.3 L361.0,988.0 L299.8,988.0 Z" fill="#eee856" stroke="#f4ee62" stroke-width="1.6"/></g>
<rect x="281.8" y="947.0" width="97.2" height="40.0" fill="url(#gw)"/>
<g filter="url(#bl4)"><rect x="308.1" y="931.1" width="44.5" height="1.8" fill="#fae890" opacity="0.9"/></g>
</g>
<mask id="c5" maskUnits="userSpaceOnUse" x="520.0" y="569.0" width="124.0" height="62.0"><path d="M537.5,576.2 C547.3,575.0 559.8,575.0 582.0,575.0 C604.2,575.0 616.7,575.0 626.5,576.2 C628.9,600.0 632.2,615.0 636.0,622.6 C624.1,625.0 609.0,625.0 582.0,625.0 C555.0,625.0 539.9,625.0 528.0,622.6 C531.8,615.0 535.1,600.0 537.5,576.2 Z" fill="#fff" filter="url(#bl)"/></mask>
<g mask="url(#c5)">
<rect x="522.0" y="571.0" width="120.0" height="58.0" fill="url(#gh)"/>
<g filter="url(#bl2)"><path d="M581.5,569.9 L582.5,569.9 L626.8,635.0 L537.2,635.0 Z" fill="#ecdc50"/></g>
<g filter="url(#bl3)"><path d="M582.0,587.0 L612.8,628.0 L551.2,628.0 Z" fill="#eee856" stroke="#f4ee62" stroke-width="1.6"/></g>
<rect x="533.4" y="587.0" width="97.2" height="40.0" fill="url(#gw)"/>
<g filter="url(#bl4)"><rect x="559.8" y="574.7" width="44.5" height="1.8" fill="#fae890" opacity="0.9"/></g>
</g>
<mask id="c6" maskUnits="userSpaceOnUse" x="520.0" y="670.7" width="124.0" height="62.0"><path d="M537.5,677.9 C547.3,676.7 559.8,676.7 582.0,676.7 C604.2,676.7 616.7,676.7 626.5,677.9 C628.9,701.7 632.2,716.7 636.0,724.3 C624.1,726.7 609.0,726.7 582.0,726.7 C555.0,726.7 539.9,726.7 528.0,724.3 C531.8,716.7 535.1,701.7 537.5,677.9 Z" fill="#fff" filter="url(#bl)"/></mask>
<g mask="url(#c6)">
<rect x="522.0" y="672.7" width="120.0" height="58.0" fill="url(#gh)"/>
<g filter="url(#bl2)"><path d="M581.5,671.6 L582.5,671.6 L626.8,736.7 L537.2,736.7 Z" fill="#ecdc50"/></g>
<g filter="url(#bl3)"><path d="M582.0,688.7 L612.8,729.7 L551.2,729.7 Z" fill="#eee856" stroke="#f4ee62" stroke-width="1.6"/></g>
<rect x="533.4" y="688.7" width="97.2" height="40.0" fill="url(#gw)"/>
<g filter="url(#bl4)"><rect x="559.8" y="676.4" width="44.5" height="1.8" fill="#fae890" opacity="0.9"/></g>
</g>
<mask id="c7" maskUnits="userSpaceOnUse" x="520.0" y="773.0" width="124.0" height="62.0"><path d="M537.5,780.2 C547.3,779.0 559.8,779.0 582.0,779.0 C604.2,779.0 616.7,779.0 626.5,780.2 C628.9,804.0 632.2,819.0 636.0,826.6 C624.1,829.0 609.0,829.0 582.0,829.0 C555.0,829.0 539.9,829.0 528.0,826.6 C531.8,819.0 535.1,804.0 537.5,780.2 Z" fill="#fff" filter="url(#bl)"/></mask>
<g mask="url(#c7)">
<rect x="522.0" y="775.0" width="120.0" height="58.0" fill="url(#gh)"/>
<g filter="url(#bl2)"><path d="M581.5,773.9 L582.5,773.9 L626.8,839.0 L537.2,839.0 Z" fill="#ecdc50"/></g>
<g filter="url(#bl3)"><path d="M582.0,791.0 L612.8,832.0 L551.2,832.0 Z" fill="#eee856" stroke="#f4ee62" stroke-width="1.6"/></g>
<rect x="533.4" y="791.0" width="97.2" height="40.0" fill="url(#gw)"/>
<g filter="url(#bl4)"><rect x="559.8" y="778.7" width="44.5" height="1.8" fill="#fae890" opacity="0.9"/></g>
</g>
<mask id="c8" maskUnits="userSpaceOnUse" x="520.0" y="874.7" width="124.0" height="62.0"><path d="M537.5,881.9 C547.3,880.7 559.8,880.7 582.0,880.7 C604.2,880.7 616.7,880.7 626.5,881.9 C628.9,905.7 632.2,920.7 636.0,928.3 C624.1,930.7 609.0,930.7 582.0,930.7 C555.0,930.7 539.9,930.7 528.0,928.3 C531.8,920.7 535.1,905.7 537.5,881.9 Z" fill="#fff" filter="url(#bl)"/></mask>
<g mask="url(#c8)">
<rect x="522.0" y="876.7" width="120.0" height="58.0" fill="url(#gh)"/>
<g filter="url(#bl2)"><path d="M581.5,875.6 L582.5,875.6 L626.8,940.7 L537.2,940.7 Z" fill="#ecdc50"/></g>
<g filter="url(#bl3)"><path d="M582.0,892.7 L612.8,933.7 L551.2,933.7 Z" fill="#eee856" stroke="#f4ee62" stroke-width="1.6"/></g>
<rect x="533.4" y="892.7" width="97.2" height="40.0" fill="url(#gw)"/>
<g filter="url(#bl4)"><rect x="559.8" y="880.4" width="44.5" height="1.8" fill="#fae890" opacity="0.9"/></g>
</g>
<mask id="c9" maskUnits="userSpaceOnUse" x="520.0" y="980.5" width="124.0" height="35.5"><path d="M537.5,987.7 C547.3,986.5 559.8,986.5 582.0,986.5 C604.2,986.5 616.7,986.5 626.5,987.7 C628.9,998.2 632.2,1005.3 636.0,1007.6 C624.1,1010.0 609.0,1010.0 582.0,1010.0 C555.0,1010.0 539.9,1010.0 528.0,1007.6 C531.8,1005.3 535.1,998.2 537.5,987.7 Z" fill="#fff" filter="url(#bl)"/></mask>
<g mask="url(#c9)">
<rect x="522.0" y="982.5" width="120.0" height="31.5" fill="url(#gh)"/>
<g filter="url(#bl2)"><path d="M581.5,984.1 L582.5,984.1 L634.5,1020.0 L529.5,1020.0 Z" fill="#ecdc50"/></g>
<g filter="url(#bl3)"><path d="M582.0,992.1 L615.3,1013.0 L548.7,1013.0 Z" fill="#eee856" stroke="#f4ee62" stroke-width="1.6"/></g>
<rect x="533.4" y="985.3" width="97.2" height="26.7" fill="url(#gw)"/>
<g filter="url(#bl4)"><rect x="559.8" y="986.2" width="44.5" height="1.8" fill="#fae890" opacity="0.9"/></g>
</g>
</g>
<text transform="translate(183.0 1016.0) scale(1.03 1)" font-family='"Liberation Sans", "DejaVu Sans", sans-serif' font-size="32" font-weight="normal" font-style="normal" text-anchor="start" fill="#000" >-1.5</text>
<text transform="translate(267.0 1016.0) scale(1.03 1)" font-family='"Liberation Sans", "DejaVu Sans", sans-serif' font-size="32" font-weight="normal" font-style="normal" text-anchor="start" fill="#000" >-1</text>
<text transform="translate(345.0 1016.0) scale(1.03 1)" font-family='"Liberation Sans", "DejaVu Sans", sans-serif' font-size="32" font-weight="normal" font-style="normal" text-anchor="start" fill="#000" >-0.5</text>
<text transform="translate(444.0 1016.0) scale(1.03 1)" font-family='"Liberation Sans", "DejaVu Sans", sans-serif' font-size="32" font-weight="normal" font-style="normal" text-anchor="start" fill="#000" >0</text>
<text transform="translate(500.0 1016.0) scale(1.03 1)" font-family='"Liberation Sans", "DejaVu Sans", sans-serif' font-size="32" font-weight="normal" font-style="normal" text-anchor="start" fill="#000" >0.5</text>
<text transform="translate(609.0 1016.0) scale(1.03 1)" font-family='"Liberation Sans", "DejaVu Sans", sans-serif' font-size="32" font-weight="normal" font-style="normal" text-anchor="start" fill="#000" >1</text>
<text transform="translate(673.0 1016.0) scale(1.03 1)" font-family='"Liberation Sans", "DejaVu Sans", sans-serif' font-size="32" font-weight="normal" font-style="normal" text-anchor="start" fill="#000" >1.5</text>
<text transform="translate(199.0 607.0) scale(1.03 1)" font-family='"Liberation Sans", "DejaVu Sans", sans-serif' font-size="32" font-weight="normal" font-style="normal" text-anchor="end" fill="#000" >8</text>
<text transform="translate(199.0 705.0) scale(1.03 1)" font-family='"Liberation Sans", "DejaVu Sans", sans-serif' font-size="32" font-weight="normal" font-style="normal" text-anchor="end" fill="#000" >6</text>
<text transform="translate(199.0 810.0) scale(1.03 1)" font-family='"Liberation Sans", "DejaVu Sans", sans-serif' font-size="32" font-weight="normal" font-style="normal" text-anchor="end" fill="#000" >4</text>
<text transform="translate(199.0 905.0) scale(1.03 1)" font-family='"Liberation Sans", "DejaVu Sans", sans-serif' font-size="32" font-weight="normal" font-style="normal" text-anchor="end" fill="#000" >2</text>
<text transform="translate(199.0 997.0) scale(1.03 1)" font-family='"Liberation Sans", "DejaVu Sans", sans-serif' font-size="32" font-weight="normal" font-style="normal" text-anchor="end" fill="#000" >0</text>
<text transform="translate(452.0 1041.5)" font-family='"Liberation Serif", "DejaVu Serif", serif' font-size="52" font-weight="normal" font-style="italic" text-anchor="middle" fill="#4a4a4a" >x</text>
<text transform="translate(160.0 910.0) rotate(-90)" font-family='"Liberation Serif", "DejaVu Serif", serif' font-size="58" font-weight="normal" font-style="italic" text-anchor="start" fill="#3a3a3a" >t (seconds)</text>
<clipPath id="h799"><rect x="799" y="590.8" width="501.20000000000005" height="396.0"/></clipPath>
<rect x="799" y="590.8" width="501.20000000000005" height="396.0" fill="#222222"/>
<g clip-path="url(#h799)">
<line x1="799.0" y1="632.0" x2="1300.2" y2="632.0" stroke="#343434" stroke-width="0.8" />
<line x1="799.0" y1="710.0" x2="1300.2" y2="710.0" stroke="#343434" stroke-width="0.8" />
<line x1="799.0" y1="789.0" x2="1300.2" y2="789.0" stroke="#343434" stroke-width="0.8" />
<line x1="799.0" y1="868.0" x2="1300.2" y2="868.0" stroke="#343434" stroke-width="0.8" />
<line x1="799.0" y1="947.0" x2="1300.2" y2="947.0" stroke="#343434" stroke-width="0.8" />
<mask id="c10" maskUnits="userSpaceOnUse" x="866.0" y="569.0" width="119.0" height="38.5"><path d="M879.0,578.0 C889.2,575.0 902.2,575.0 925.5,575.0 C948.8,575.0 961.8,575.0 972.0,578.0 C973.2,588.2 975.0,596.2 977.0,596.3 C965.7,601.5 951.2,601.5 925.5,601.5 C899.8,601.5 885.3,601.5 874.0,596.3 C876.0,596.2 877.8,588.2 879.0,578.0 Z" fill="#fff" filter="url(#bl)"/></mask>
<g mask="url(#c10)">
<rect x="868.0" y="571.0" width="115.0" height="34.5" fill="url(#gh)"/>
<g filter="url(#bl2)"><path d="M901.5,565.0 L949.5,565.0 L963.5,611.5 L887.5,611.5 Z" fill="#ecdc50"/></g>
<g filter="url(#bl3)"><path d="M906.8,576.5 L944.2,576.5 L952.3,604.5 L898.7,604.5 Z" fill="#eee856" stroke="#f4ee62" stroke-width="1.6"/></g>
<rect x="879.1" y="573.7" width="92.7" height="29.8" fill="url(#gw)"/>
<g filter="url(#bl4)"><rect x="902.2" y="574.7" width="46.5" height="1.8" fill="#fae890" opacity="0.9"/></g>
</g>
<mask id="c11" maskUnits="userSpaceOnUse" x="866.0" y="622.5" width="119.0" height="38.3"><path d="M879.0,631.5 C889.2,628.5 902.2,628.5 925.5,628.5 C948.8,628.5 961.8,628.5 972.0,631.5 C973.2,641.6 975.0,649.5 977.0,649.6 C965.7,654.8 951.2,654.8 925.5,654.8 C899.8,654.8 885.3,654.8 874.0,649.6 C876.0,649.5 877.8,641.6 879.0,631.5 Z" fill="#fff" filter="url(#bl)"/></mask>
<g mask="url(#c11)">
<rect x="868.0" y="624.5" width="115.0" height="34.3" fill="url(#gh)"/>
<g filter="url(#bl2)"><path d="M901.5,618.5 L949.5,618.5 L963.5,664.8 L887.5,664.8 Z" fill="#ecdc50"/></g>
<g filter="url(#bl3)"><path d="M906.8,630.0 L944.2,630.0 L952.3,657.8 L898.7,657.8 Z" fill="#eee856" stroke="#f4ee62" stroke-width="1.6"/></g>
<rect x="879.1" y="627.2" width="92.7" height="29.6" fill="url(#gw)"/>
<g filter="url(#bl4)"><rect x="902.2" y="628.2" width="46.5" height="1.8" fill="#fae890" opacity="0.9"/></g>
</g>
<mask id="c12" maskUnits="userSpaceOnUse" x="866.0" y="675.0" width="119.0" height="39.0"><path d="M879.0,684.0 C889.2,681.0 902.2,681.0 925.5,681.0 C948.8,681.0 961.8,681.0 972.0,684.0 C973.2,694.5 975.0,702.6 977.0,702.8 C965.7,708.0 951.2,708.0 925.5,708.0 C899.8,708.0 885.3,708.0 874.0,702.8 C876.0,702.6 877.8,694.5 879.0,684.0 Z" fill="#fff" filter="url(#bl)"/></mask>
<g mask="url(#c12)">
<rect x="868.0" y="677.0" width="115.0" height="35.0" fill="url(#gh)"/>
<g filter="url(#bl2)"><path d="M901.5,671.0 L949.5,671.0 L963.5,718.0 L887.5,718.0 Z" fill="#ecdc50"/></g>
<g filter="url(#bl3)"><path d="M906.8,682.5 L944.2,682.5 L952.3,711.0 L898.7,711.0 Z" fill="#eee856" stroke="#f4ee62" stroke-width="1.6"/></g>
<rect x="879.1" y="679.6" width="92.7" height="30.4" fill="url(#gw)"/>
<g filter="url(#bl4)"><rect x="902.2" y="680.7" width="46.5" height="1.8" fill="#fae890" opacity="0.9"/></g>
</g>
<mask id="c13" maskUnits="userSpaceOnUse" x="866.0" y="728.7" width="119.0" height="38.9"><path d="M879.0,737.7 C889.2,734.7 902.2,734.7 925.5,734.7 C948.8,734.7 961.8,734.7 972.0,737.7 C973.2,748.2 975.0,756.2 977.0,756.4 C965.7,761.6 951.2,761.6 925.5,761.6 C899.8,761.6 885.3,761.6 874.0,756.4 C876.0,756.2 877.8,748.2 879.0,737.7 Z" fill="#fff" filter="url(#bl)"/></mask>
<g mask="url(#c13)">
<rect x="868.0" y="730.7" width="115.0" height="34.9" fill="url(#gh)"/>
<g filter="url(#bl2)"><path d="M901.5,724.7 L949.5,724.7 L963.5,771.6 L887.5,771.6 Z" fill="#ecdc50"/></g>
<g filter="url(#bl3)"><path d="M906.8,736.2 L944.2,736.2 L952.3,764.6 L898.7,764.6 Z" fill="#eee856" stroke="#f4ee62" stroke-width="1.6"/></g>
<rect x="879.1" y="733.4" width="92.7" height="30.2" fill="url(#gw)"/>
<g filter="url(#bl4)"><rect x="902.2" y="734.4" width="46.5" height="1.8" fill="#fae890" opacity="0.9"/></g>
</g>
<mask id="c14" maskUnits="userSpaceOnUse" x="866.0" y="782.0" width="119.0" height="38.0"><path d="M879.0,791.0 C889.2,788.0 902.2,788.0 925.5,788.0 C948.8,788.0 961.8,788.0 972.0,791.0 C973.2,801.0 975.0,808.8 977.0,808.8 C965.7,814.0 951.2,814.0 925.5,814.0 C899.8,814.0 885.3,814.0 874.0,808.8 C876.0,808.8 877.8,801.0 879.0,791.0 Z" fill="#fff" filter="url(#bl)"/></mask>
<g mask="url(#c14)">
<rect x="868.0" y="784.0" width="115.0" height="34.0" fill="url(#gh)"/>
<g filter="url(#bl2)"><path d="M901.6,778.0 L949.4,778.0 L963.6,824.0 L887.4,824.0 Z" fill="#ecdc50"/></g>
<g filter="url(#bl3)"><path d="M906.8,789.5 L944.2,789.5 L952.3,817.0 L898.7,817.0 Z" fill="#eee856" stroke="#f4ee62" stroke-width="1.6"/></g>
<rect x="879.1" y="786.7" width="92.7" height="29.3" fill="url(#gw)"/>
<g filter="url(#bl4)"><rect x="902.2" y="787.7" width="46.5" height="1.8" fill="#fae890" opacity="0.9"/></g>
</g>
<mask id="c15" maskUnits="userSpaceOnUse" x="866.0" y="835.0" width="119.0" height="39.0"><path d="M879.0,844.0 C889.2,841.0 902.2,841.0 925.5,841.0 C948.8,841.0 961.8,841.0 972.0,844.0 C973.2,854.5 975.0,862.6 977.0,862.8 C965.7,868.0 951.2,868.0 925.5,868.0 C899.8,868.0 885.3,868.0 874.0,862.8 C876.0,862.6 877.8,854.5 879.0,844.0 Z" fill="#fff" filter="url(#bl)"/></mask>
<g mask="url(#c15)">
<rect x="868.0" y="837.0" width="115.0" height="35.0" fill="url(#gh)"/>
<g filter="url(#bl2)"><path d="M901.5,831.0 L949.5,831.0 L963.5,878.0 L887.5,878.0 Z" fill="#ecdc50"/></g>
<g filter="url(#bl3)"><path d="M906.8,842.5 L944.2,842.5 L952.3,871.0 L898.7,871.0 Z" fill="#eee856" stroke="#f4ee62" stroke-width="1.6"/></g>
<rect x="879.1" y="839.6" width="92.7" height="30.4" fill="url(#gw)"/>
<g filter="url(#bl4)"><rect x="902.2" y="840.7" width="46.5" height="1.8" fill="#fae890" opacity="0.9"/></g>
</g>
<mask id="c16" maskUnits="userSpaceOnUse" x="866.0" y="888.7" width="119.0" height="38.3"><path d="M879.0,897.7 C889.2,894.7 902.2,894.7 925.5,894.7 C948.8,894.7 961.8,894.7 972.0,897.7 C973.2,907.9 975.0,915.7 977.0,915.8 C965.7,921.0 951.2,921.0 925.5,921.0 C899.8,921.0 885.3,921.0 874.0,915.8 C876.0,915.7 877.8,907.9 879.0,897.7 Z" fill="#fff" filter="url(#bl)"/></mask>
<g mask="url(#c16)">
<rect x="868.0" y="890.7" width="115.0" height="34.3" fill="url(#gh)"/>
<g filter="url(#bl2)"><path d="M901.5,884.7 L949.5,884.7 L963.5,931.0 L887.5,931.0 Z" fill="#ecdc50"/></g>
<g filter="url(#bl3)"><path d="M906.8,896.2 L944.2,896.2 L952.3,924.0 L898.7,924.0 Z" fill="#eee856" stroke="#f4ee62" stroke-width="1.6"/></g>
<rect x="879.1" y="893.4" width="92.7" height="29.6" fill="url(#gw)"/>
<g filter="url(#bl4)"><rect x="902.2" y="894.4" width="46.5" height="1.8" fill="#fae890" opacity="0.9"/></g>
</g>
<mask id="c17" maskUnits="userSpaceOnUse" x="866.0" y="942.3" width="119.0" height="48.2"><path d="M879.0,951.3 C889.2,948.3 902.2,948.3 925.5,948.3 C948.8,948.3 961.8,948.3 972.0,951.3 C973.2,966.4 975.0,977.3 977.0,979.3 C965.7,984.5 951.2,984.5 925.5,984.5 C899.8,984.5 885.3,984.5 874.0,979.3 C876.0,977.3 877.8,966.4 879.0,951.3 Z" fill="#fff" filter="url(#bl)"/></mask>
<g mask="url(#c17)">
<rect x="868.0" y="944.3" width="115.0" height="44.2" fill="url(#gh)"/>
<g filter="url(#bl2)"><path d="M900.7,938.3 L950.3,938.3 L962.7,994.5 L888.3,994.5 Z" fill="#ecdc50"/></g>
<g filter="url(#bl3)"><path d="M906.8,949.8 L944.2,949.8 L952.1,987.5 L898.9,987.5 Z" fill="#eee856" stroke="#f4ee62" stroke-width="1.6"/></g>
<rect x="879.1" y="946.5" width="92.7" height="40.0" fill="url(#gw)"/>
<g filter="url(#bl4)"><rect x="902.2" y="948.0" width="46.5" height="1.8" fill="#fae890" opacity="0.9"/></g>
</g>
<mask id="c18" maskUnits="userSpaceOnUse" x="1117.5" y="596.0" width="119.0" height="38.5"><path d="M1130.5,605.0 C1140.7,602.0 1153.8,602.0 1177.0,602.0 C1200.2,602.0 1213.3,602.0 1223.5,605.0 C1224.8,615.2 1226.5,623.2 1228.5,623.3 C1217.2,628.5 1202.8,628.5 1177.0,628.5 C1151.2,628.5 1136.8,628.5 1125.5,623.3 C1127.5,623.2 1129.2,615.2 1130.5,605.0 Z" fill="#fff" filter="url(#bl)"/></mask>
<g mask="url(#c18)">
<rect x="1119.5" y="598.0" width="115.0" height="34.5" fill="url(#gh)"/>
<g filter="url(#bl2)"><path d="M1153.0,592.0 L1201.0,592.0 L1215.0,638.5 L1139.0,638.5 Z" fill="#ecdc50"/></g>
<g filter="url(#bl3)"><path d="M1158.3,603.5 L1195.7,603.5 L1203.8,631.5 L1150.2,631.5 Z" fill="#eee856" stroke="#f4ee62" stroke-width="1.6"/></g>
<rect x="1130.7" y="600.7" width="92.7" height="29.8" fill="url(#gw)"/>
<g filter="url(#bl4)"><rect x="1153.8" y="601.7" width="46.5" height="1.8" fill="#fae890" opacity="0.9"/></g>
</g>
<mask id="c19" maskUnits="userSpaceOnUse" x="1117.5" y="649.4" width="119.0" height="37.6"><path d="M1130.5,658.4 C1140.7,655.4 1153.8,655.4 1177.0,655.4 C1200.2,655.4 1213.3,655.4 1223.5,658.4 C1224.8,668.2 1226.5,675.9 1228.5,675.8 C1217.2,681.0 1202.8,681.0 1177.0,681.0 C1151.2,681.0 1136.8,681.0 1125.5,675.8 C1127.5,675.9 1129.2,668.2 1130.5,658.4 Z" fill="#fff" filter="url(#bl)"/></mask>
<g mask="url(#c19)">
<rect x="1119.5" y="651.4" width="115.0" height="33.6" fill="url(#gh)"/>
<g filter="url(#bl2)"><path d="M1153.1,645.4 L1200.9,645.4 L1215.1,691.0 L1138.9,691.0 Z" fill="#ecdc50"/></g>
<g filter="url(#bl3)"><path d="M1158.3,656.9 L1195.7,656.9 L1203.9,684.0 L1150.1,684.0 Z" fill="#eee856" stroke="#f4ee62" stroke-width="1.6"/></g>
<rect x="1130.7" y="654.1" width="92.7" height="28.9" fill="url(#gw)"/>
<g filter="url(#bl4)"><rect x="1153.8" y="655.1" width="46.5" height="1.8" fill="#fae890" opacity="0.9"/></g>
</g>
<mask id="c20" maskUnits="userSpaceOnUse" x="1117.5" y="702.0" width="119.0" height="38.7"><path d="M1130.5,711.0 C1140.7,708.0 1153.8,708.0 1177.0,708.0 C1200.2,708.0 1213.3,708.0 1223.5,711.0 C1224.8,721.4 1226.5,729.4 1228.5,729.5 C1217.2,734.7 1202.8,734.7 1177.0,734.7 C1151.2,734.7 1136.8,734.7 1125.5,729.5 C1127.5,729.4 1129.2,721.4 1130.5,711.0 Z" fill="#fff" filter="url(#bl)"/></mask>
<g mask="url(#c20)">
<rect x="1119.5" y="704.0" width="115.0" height="34.7" fill="url(#gh)"/>
<g filter="url(#bl2)"><path d="M1153.0,698.0 L1201.0,698.0 L1215.0,744.7 L1139.0,744.7 Z" fill="#ecdc50"/></g>
<g filter="url(#bl3)"><path d="M1158.3,709.5 L1195.7,709.5 L1203.8,737.7 L1150.2,737.7 Z" fill="#eee856" stroke="#f4ee62" stroke-width="1.6"/></g>
<rect x="1130.7" y="706.7" width="92.7" height="30.0" fill="url(#gw)"/>
<g filter="url(#bl4)"><rect x="1153.8" y="707.7" width="46.5" height="1.8" fill="#fae890" opacity="0.9"/></g>
</g>
<mask id="c21" maskUnits="userSpaceOnUse" x="1117.5" y="755.6" width="119.0" height="38.4"><path d="M1130.5,764.6 C1140.7,761.6 1153.8,761.6 1177.0,761.6 C1200.2,761.6 1213.3,761.6 1223.5,764.6 C1224.8,774.8 1226.5,782.7 1228.5,782.8 C1217.2,788.0 1202.8,788.0 1177.0,788.0 C1151.2,788.0 1136.8,788.0 1125.5,782.8 C1127.5,782.7 1129.2,774.8 1130.5,764.6 Z" fill="#fff" filter="url(#bl)"/></mask>
<g mask="url(#c21)">
<rect x="1119.5" y="757.6" width="115.0" height="34.4" fill="url(#gh)"/>
<g filter="url(#bl2)"><path d="M1153.0,751.6 L1201.0,751.6 L1215.0,798.0 L1139.0,798.0 Z" fill="#ecdc50"/></g>
<g filter="url(#bl3)"><path d="M1158.3,763.1 L1195.7,763.1 L1203.8,791.0 L1150.2,791.0 Z" fill="#eee856" stroke="#f4ee62" stroke-width="1.6"/></g>
<rect x="1130.7" y="760.3" width="92.7" height="29.7" fill="url(#gw)"/>
<g filter="url(#bl4)"><rect x="1153.8" y="761.3" width="46.5" height="1.8" fill="#fae890" opacity="0.9"/></g>
</g>
<mask id="c22" maskUnits="userSpaceOnUse" x="1117.5" y="809.0" width="119.0" height="37.5"><path d="M1130.5,818.0 C1140.7,815.0 1153.8,815.0 1177.0,815.0 C1200.2,815.0 1213.3,815.0 1223.5,818.0 C1224.8,827.8 1226.5,835.4 1228.5,835.3 C1217.2,840.5 1202.8,840.5 1177.0,840.5 C1151.2,840.5 1136.8,840.5 1125.5,835.3 C1127.5,835.4 1129.2,827.8 1130.5,818.0 Z" fill="#fff" filter="url(#bl)"/></mask>
<g mask="url(#c22)">
<rect x="1119.5" y="811.0" width="115.0" height="33.5" fill="url(#gh)"/>
<g filter="url(#bl2)"><path d="M1153.1,805.0 L1200.9,805.0 L1215.1,850.5 L1138.9,850.5 Z" fill="#ecdc50"/></g>
<g filter="url(#bl3)"><path d="M1158.3,816.5 L1195.7,816.5 L1203.9,843.5 L1150.1,843.5 Z" fill="#eee856" stroke="#f4ee62" stroke-width="1.6"/></g>
<rect x="1130.7" y="813.7" width="92.7" height="28.8" fill="url(#gw)"/>
<g filter="url(#bl4)"><rect x="1153.8" y="814.7" width="46.5" height="1.8" fill="#fae890" opacity="0.9"/></g>
</g>
<mask id="c23" maskUnits="userSpaceOnUse" x="1117.5" y="861.8" width="119.0" height="38.9"><path d="M1130.5,870.8 C1140.7,867.8 1153.8,867.8 1177.0,867.8 C1200.2,867.8 1213.3,867.8 1223.5,870.8 C1224.8,881.2 1226.5,889.3 1228.5,889.5 C1217.2,894.7 1202.8,894.7 1177.0,894.7 C1151.2,894.7 1136.8,894.7 1125.5,889.5 C1127.5,889.3 1129.2,881.2 1130.5,870.8 Z" fill="#fff" filter="url(#bl)"/></mask>
<g mask="url(#c23)">
<rect x="1119.5" y="863.8" width="115.0" height="34.9" fill="url(#gh)"/>
<g filter="url(#bl2)"><path d="M1153.0,857.8 L1201.0,857.8 L1215.0,904.7 L1139.0,904.7 Z" fill="#ecdc50"/></g>
<g filter="url(#bl3)"><path d="M1158.3,869.3 L1195.7,869.3 L1203.8,897.7 L1150.2,897.7 Z" fill="#eee856" stroke="#f4ee62" stroke-width="1.6"/></g>
<rect x="1130.7" y="866.5" width="92.7" height="30.2" fill="url(#gw)"/>
<g filter="url(#bl4)"><rect x="1153.8" y="867.5" width="46.5" height="1.8" fill="#fae890" opacity="0.9"/></g>
</g>
<mask id="c24" maskUnits="userSpaceOnUse" x="1117.5" y="915.7" width="119.0" height="38.6"><path d="M1130.5,924.7 C1140.7,921.7 1153.8,921.7 1177.0,921.7 C1200.2,921.7 1213.3,921.7 1223.5,924.7 C1224.8,935.0 1226.5,943.0 1228.5,943.1 C1217.2,948.3 1202.8,948.3 1177.0,948.3 C1151.2,948.3 1136.8,948.3 1125.5,943.1 C1127.5,943.0 1129.2,935.0 1130.5,924.7 Z" fill="#fff" filter="url(#bl)"/></mask>
<g mask="url(#c24)">
<rect x="1119.5" y="917.7" width="115.0" height="34.6" fill="url(#gh)"/>
<g filter="url(#bl2)"><path d="M1153.0,911.7 L1201.0,911.7 L1215.0,958.3 L1139.0,958.3 Z" fill="#ecdc50"/></g>
<g filter="url(#bl3)"><path d="M1158.3,923.2 L1195.7,923.2 L1203.8,951.3 L1150.2,951.3 Z" fill="#eee856" stroke="#f4ee62" stroke-width="1.6"/></g>
<rect x="1130.7" y="920.4" width="92.7" height="29.9" fill="url(#gw)"/>
<g filter="url(#bl4)"><rect x="1153.8" y="921.4" width="46.5" height="1.8" fill="#fae890" opacity="0.9"/></g>
</g>
<mask id="c25" maskUnits="userSpaceOnUse" x="1117.5" y="979.0" width="119.0" height="37.0"><path d="M1130.5,988.0 C1140.7,985.0 1153.8,985.0 1177.0,985.0 C1200.2,985.0 1213.3,985.0 1223.5,988.0 C1224.8,997.5 1226.5,1005.0 1228.5,1004.8 C1217.2,1010.0 1202.8,1010.0 1177.0,1010.0 C1151.2,1010.0 1136.8,1010.0 1125.5,1004.8 C1127.5,1005.0 1129.2,997.5 1130.5,988.0 Z" fill="#fff" filter="url(#bl)"/></mask>
<g mask="url(#c25)">
<rect x="1119.5" y="981.0" width="115.0" height="33.0" fill="url(#gh)"/>
<g filter="url(#bl2)"><path d="M1153.2,975.0 L1200.8,975.0 L1215.2,1020.0 L1138.8,1020.0 Z" fill="#ecdc50"/></g>
<g filter="url(#bl3)"><path d="M1158.3,986.5 L1195.7,986.5 L1203.9,1013.0 L1150.1,1013.0 Z" fill="#eee856" stroke="#f4ee62" stroke-width="1.6"/></g>
<rect x="1130.7" y="983.8" width="92.7" height="28.2" fill="url(#gw)"/>
<g filter="url(#bl4)"><rect x="1153.8" y="984.7" width="46.5" height="1.8" fill="#fae890" opacity="0.9"/></g>
</g>
</g>
<text transform="translate(776.0 1014.0) scale(1.03 1)" font-family='"Liberation Sans", "DejaVu Sans", sans-serif' font-size="32" font-weight="normal" font-style="normal" text-anchor="start" fill="#000" >-1.5</text>
<text transform="translate(860.0 1014.0) scale(1.03 1)" font-family='"Liberation Sans", "DejaVu Sans", sans-serif' font-size="32" font-weight="normal" font-style="normal" text-anchor="start" fill="#000" >-1</text>
<text transform="translate(940.0 1014.0) scale(1.03 1)" font-family='"Liberation Sans", "DejaVu Sans", sans-serif' font-size="32" font-weight="normal" font-style="normal" text-anchor="start" fill="#000" >-0.5</text>
<text transform="translate(1038.0 1014.0) scale(1.03 1)" font-family='"Liberation Sans", "DejaVu Sans", sans-serif' font-size="32" font-weight="normal" font-style="normal" text-anchor="start" fill="#000" >0</text>
<text transform="translate(1093.0 1014.0) scale(1.03 1)" font-family='"Liberation Sans", "DejaVu Sans", sans-serif' font-size="32" font-weight="normal" font-style="normal" text-anchor="start" fill="#000" >0.5</text>
<text transform="translate(1206.0 1014.0) scale(1.03 1)" font-family='"Liberation Sans", "DejaVu Sans", sans-serif' font-size="32" font-weight="normal" font-style="normal" text-anchor="start" fill="#000" >1</text>
<text transform="translate(1265.0 1016.5) scale(1.03 1)" font-family='"Liberation Sans", "DejaVu Sans", sans-serif' font-size="32" font-weight="normal" font-style="normal" text-anchor="start" fill="#000" >1.5</text>
<text transform="translate(791.0 604.0) scale(1.03 1)" font-family='"Liberation Sans", "DejaVu Sans", sans-serif' font-size="32" font-weight="normal" font-style="normal" text-anchor="end" fill="#000" >8</text>
<text transform="translate(791.0 701.5) scale(1.03 1)" font-family='"Liberation Sans", "DejaVu Sans", sans-serif' font-size="32" font-weight="normal" font-style="normal" text-anchor="end" fill="#000" >6</text>
<text transform="translate(791.0 808.0) scale(1.03 1)" font-family='"Liberation Sans", "DejaVu Sans", sans-serif' font-size="32" font-weight="normal" font-style="normal" text-anchor="end" fill="#000" >4</text>
<text transform="translate(791.0 903.5) scale(1.03 1)" font-family='"Liberation Sans", "DejaVu Sans", sans-serif' font-size="32" font-weight="normal" font-style="normal" text-anchor="end" fill="#000" >2</text>
<text transform="translate(791.0 994.0) scale(1.03 1)" font-family='"Liberation Sans", "DejaVu Sans", sans-serif' font-size="32" font-weight="normal" font-style="normal" text-anchor="end" fill="#000" >0</text>
<text transform="translate(1045.0 1040.0)" font-family='"Liberation Serif", "DejaVu Serif", serif' font-size="52" font-weight="normal" font-style="italic" text-anchor="middle" fill="#4a4a4a" >x</text>
<line x1="797.8" y1="592.3" x2="797.8" y2="987.0" stroke="#8c8c8c" stroke-width="2" />
<clipPath id="h1388"><rect x="1388.5" y="591" width="500.29999999999995" height="394"/></clipPath>
<rect x="1388.5" y="591" width="500.29999999999995" height="394" fill="#222222"/>
<g clip-path="url(#h1388)">
<mask id="c26" maskUnits="userSpaceOnUse" x="1453.0" y="623.0" width="122.0" height="40.0"><path d="M1467.5,631.6 C1477.7,629.0 1490.8,629.0 1514.0,629.0 C1537.2,629.0 1550.3,629.0 1560.5,631.6 C1562.1,643.0 1564.4,651.4 1567.0,653.0 C1555.3,657.0 1540.5,657.0 1514.0,657.0 C1487.5,657.0 1472.7,657.0 1461.0,653.0 C1463.6,651.4 1465.9,643.0 1467.5,631.6 Z" fill="#fff" filter="url(#bl)"/></mask>
<g mask="url(#c26)">
<rect x="1455.0" y="625.0" width="118.0" height="36.0" fill="url(#gh)"/>
<g filter="url(#bl2)"><path d="M1500.0,619.0 L1528.0,619.0 L1552.0,667.0 L1476.0,667.0 Z" fill="#ecdc50"/></g>
<g filter="url(#bl3)"><path d="M1506.0,630.5 L1522.0,630.5 L1544.1,660.0 L1483.9,660.0 Z" fill="#eee856" stroke="#f4ee62" stroke-width="1.6"/></g>
<rect x="1466.3" y="627.6" width="95.4" height="31.4" fill="url(#gw)"/>
<g filter="url(#bl4)"><rect x="1490.8" y="628.7" width="46.5" height="1.8" fill="#fae890" opacity="0.9"/></g>
</g>
<mask id="c27" maskUnits="userSpaceOnUse" x="1453.0" y="702.4" width="122.0" height="41.2"><path d="M1467.5,711.0 C1477.7,708.4 1490.8,708.4 1514.0,708.4 C1537.2,708.4 1550.3,708.4 1560.5,711.0 C1562.1,723.0 1564.4,731.8 1567.0,733.6 C1555.3,737.6 1540.5,737.6 1514.0,737.6 C1487.5,737.6 1472.7,737.6 1461.0,733.6 C1463.6,731.8 1465.9,723.0 1467.5,711.0 Z" fill="#fff" filter="url(#bl)"/></mask>
<g mask="url(#c27)">
<rect x="1455.0" y="704.4" width="118.0" height="37.2" fill="url(#gh)"/>
<g filter="url(#bl2)"><path d="M1499.8,698.4 L1528.2,698.4 L1551.8,747.6 L1476.2,747.6 Z" fill="#ecdc50"/></g>
<g filter="url(#bl3)"><path d="M1506.0,709.9 L1522.0,709.9 L1544.1,740.6 L1483.9,740.6 Z" fill="#eee856" stroke="#f4ee62" stroke-width="1.6"/></g>
<rect x="1466.3" y="706.9" width="95.4" height="32.7" fill="url(#gw)"/>
<g filter="url(#bl4)"><rect x="1490.8" y="708.1" width="46.5" height="1.8" fill="#fae890" opacity="0.9"/></g>
</g>
<mask id="c28" maskUnits="userSpaceOnUse" x="1453.0" y="783.0" width="122.0" height="40.4"><path d="M1467.5,791.6 C1477.7,789.0 1490.8,789.0 1514.0,789.0 C1537.2,789.0 1550.3,789.0 1560.5,791.6 C1562.1,803.2 1564.4,811.7 1567.0,813.4 C1555.3,817.4 1540.5,817.4 1514.0,817.4 C1487.5,817.4 1472.7,817.4 1461.0,813.4 C1463.6,811.7 1465.9,803.2 1467.5,791.6 Z" fill="#fff" filter="url(#bl)"/></mask>
<g mask="url(#c28)">
<rect x="1455.0" y="785.0" width="118.0" height="36.4" fill="url(#gh)"/>
<g filter="url(#bl2)"><path d="M1499.9,779.0 L1528.1,779.0 L1551.9,827.4 L1476.1,827.4 Z" fill="#ecdc50"/></g>
<g filter="url(#bl3)"><path d="M1506.0,790.5 L1522.0,790.5 L1544.1,820.4 L1483.9,820.4 Z" fill="#eee856" stroke="#f4ee62" stroke-width="1.6"/></g>
<rect x="1466.3" y="787.6" width="95.4" height="31.8" fill="url(#gw)"/>
<g filter="url(#bl4)"><rect x="1490.8" y="788.7" width="46.5" height="1.8" fill="#fae890" opacity="0.9"/></g>
</g>
<mask id="c29" maskUnits="userSpaceOnUse" x="1453.0" y="863.5" width="122.0" height="40.5"><path d="M1467.5,872.1 C1477.7,869.5 1490.8,869.5 1514.0,869.5 C1537.2,869.5 1550.3,869.5 1560.5,872.1 C1562.1,883.8 1564.4,892.3 1567.0,894.0 C1555.3,898.0 1540.5,898.0 1514.0,898.0 C1487.5,898.0 1472.7,898.0 1461.0,894.0 C1463.6,892.3 1465.9,883.8 1467.5,872.1 Z" fill="#fff" filter="url(#bl)"/></mask>
<g mask="url(#c29)">
<rect x="1455.0" y="865.5" width="118.0" height="36.5" fill="url(#gh)"/>
<g filter="url(#bl2)"><path d="M1499.9,859.5 L1528.1,859.5 L1551.9,908.0 L1476.1,908.0 Z" fill="#ecdc50"/></g>
<g filter="url(#bl3)"><path d="M1506.0,871.0 L1522.0,871.0 L1544.1,901.0 L1483.9,901.0 Z" fill="#eee856" stroke="#f4ee62" stroke-width="1.6"/></g>
<rect x="1466.3" y="868.1" width="95.4" height="31.9" fill="url(#gw)"/>
<g filter="url(#bl4)"><rect x="1490.8" y="869.2" width="46.5" height="1.8" fill="#fae890" opacity="0.9"/></g>
</g>
<mask id="c30" maskUnits="userSpaceOnUse" x="1453.0" y="944.7" width="122.0" height="43.8"><path d="M1467.5,953.3 C1477.7,950.7 1490.8,950.7 1514.0,950.7 C1537.2,950.7 1550.3,950.7 1560.5,953.3 C1562.1,966.6 1564.4,976.1 1567.0,978.5 C1555.3,982.5 1540.5,982.5 1514.0,982.5 C1487.5,982.5 1472.7,982.5 1461.0,978.5 C1463.6,976.1 1465.9,966.6 1467.5,953.3 Z" fill="#fff" filter="url(#bl)"/></mask>
<g mask="url(#c30)">
<rect x="1455.0" y="946.7" width="118.0" height="39.8" fill="url(#gh)"/>
<g filter="url(#bl2)"><path d="M1499.4,940.7 L1528.6,940.7 L1551.4,992.5 L1476.6,992.5 Z" fill="#ecdc50"/></g>
<g filter="url(#bl3)"><path d="M1506.0,952.2 L1522.0,952.2 L1543.9,985.5 L1484.1,985.5 Z" fill="#eee856" stroke="#f4ee62" stroke-width="1.6"/></g>
<rect x="1466.3" y="949.1" width="95.4" height="35.4" fill="url(#gw)"/>
<g filter="url(#bl4)"><rect x="1490.8" y="950.4" width="46.5" height="1.8" fill="#fae890" opacity="0.9"/></g>
</g>
<mask id="c31" maskUnits="userSpaceOnUse" x="1704.0" y="572.0" width="121.0" height="61.0"><path d="M1718.0,580.0 C1728.2,578.0 1741.2,578.0 1764.5,578.0 C1787.8,578.0 1800.8,578.0 1811.0,580.0 C1812.5,602.5 1814.6,617.2 1817.0,622.6 C1805.5,627.0 1790.8,627.0 1764.5,627.0 C1738.2,627.0 1723.5,627.0 1712.0,622.6 C1714.4,617.2 1716.5,602.5 1718.0,580.0 Z" fill="#fff" filter="url(#bl)"/></mask>
<g mask="url(#c31)">
<rect x="1706.0" y="574.0" width="117.0" height="57.0" fill="url(#gh)"/>
<g filter="url(#bl2)"><path d="M1742.3,568.0 L1786.7,568.0 L1799.3,637.0 L1729.7,637.0 Z" fill="#ecdc50"/></g>
<g filter="url(#bl3)"><path d="M1752.5,579.5 L1776.5,579.5 L1792.4,630.0 L1736.6,630.0 Z" fill="#eee856" stroke="#f4ee62" stroke-width="1.6"/></g>
<rect x="1717.2" y="589.0" width="94.5" height="40.0" fill="url(#gw)"/>
<g filter="url(#bl4)"><rect x="1741.2" y="577.7" width="46.5" height="1.8" fill="#fae890" opacity="0.9"/></g>
</g>
<mask id="c32" maskUnits="userSpaceOnUse" x="1704.0" y="651.7" width="121.0" height="61.0"><path d="M1718.0,659.7 C1728.2,657.7 1741.2,657.7 1764.5,657.7 C1787.8,657.7 1800.8,657.7 1811.0,659.7 C1812.5,682.2 1814.6,696.9 1817.0,702.3 C1805.5,706.7 1790.8,706.7 1764.5,706.7 C1738.2,706.7 1723.5,706.7 1712.0,702.3 C1714.4,696.9 1716.5,682.2 1718.0,659.7 Z" fill="#fff" filter="url(#bl)"/></mask>
<g mask="url(#c32)">
<rect x="1706.0" y="653.7" width="117.0" height="57.0" fill="url(#gh)"/>
<g filter="url(#bl2)"><path d="M1742.3,647.7 L1786.7,647.7 L1799.3,716.7 L1729.7,716.7 Z" fill="#ecdc50"/></g>
<g filter="url(#bl3)"><path d="M1752.5,659.2 L1776.5,659.2 L1792.4,709.7 L1736.6,709.7 Z" fill="#eee856" stroke="#f4ee62" stroke-width="1.6"/></g>
<rect x="1717.2" y="668.7" width="94.5" height="40.0" fill="url(#gw)"/>
<g filter="url(#bl4)"><rect x="1741.2" y="657.4" width="46.5" height="1.8" fill="#fae890" opacity="0.9"/></g>
</g>
<mask id="c33" maskUnits="userSpaceOnUse" x="1704.0" y="732.0" width="121.0" height="61.0"><path d="M1718.0,740.0 C1728.2,738.0 1741.2,738.0 1764.5,738.0 C1787.8,738.0 1800.8,738.0 1811.0,740.0 C1812.5,762.5 1814.6,777.2 1817.0,782.6 C1805.5,787.0 1790.8,787.0 1764.5,787.0 C1738.2,787.0 1723.5,787.0 1712.0,782.6 C1714.4,777.2 1716.5,762.5 1718.0,740.0 Z" fill="#fff" filter="url(#bl)"/></mask>
<g mask="url(#c33)">
<rect x="1706.0" y="734.0" width="117.0" height="57.0" fill="url(#gh)"/>
<g filter="url(#bl2)"><path d="M1742.3,728.0 L1786.7,728.0 L1799.3,797.0 L1729.7,797.0 Z" fill="#ecdc50"/></g>
<g filter="url(#bl3)"><path d="M1752.5,739.5 L1776.5,739.5 L1792.4,790.0 L1736.6,790.0 Z" fill="#eee856" stroke="#f4ee62" stroke-width="1.6"/></g>
<rect x="1717.2" y="749.0" width="94.5" height="40.0" fill="url(#gw)"/>
<g filter="url(#bl4)"><rect x="1741.2" y="737.7" width="46.5" height="1.8" fill="#fae890" opacity="0.9"/></g>
</g>
<mask id="c34" maskUnits="userSpaceOnUse" x="1704.0" y="813.0" width="121.0" height="61.5"><path d="M1718.0,821.0 C1728.2,819.0 1741.2,819.0 1764.5,819.0 C1787.8,819.0 1800.8,819.0 1811.0,821.0 C1812.5,843.8 1814.6,858.6 1817.0,864.1 C1805.5,868.5 1790.8,868.5 1764.5,868.5 C1738.2,868.5 1723.5,868.5 1712.0,864.1 C1714.4,858.6 1716.5,843.8 1718.0,821.0 Z" fill="#fff" filter="url(#bl)"/></mask>
<g mask="url(#c34)">
<rect x="1706.0" y="815.0" width="117.0" height="57.5" fill="url(#gh)"/>
<g filter="url(#bl2)"><path d="M1742.3,809.0 L1786.7,809.0 L1799.3,878.5 L1729.7,878.5 Z" fill="#ecdc50"/></g>
<g filter="url(#bl3)"><path d="M1752.5,820.5 L1776.5,820.5 L1792.4,871.5 L1736.6,871.5 Z" fill="#eee856" stroke="#f4ee62" stroke-width="1.6"/></g>
<rect x="1717.2" y="830.5" width="94.5" height="40.0" fill="url(#gw)"/>
<g filter="url(#bl4)"><rect x="1741.2" y="818.7" width="46.5" height="1.8" fill="#fae890" opacity="0.9"/></g>
</g>
<mask id="c35" maskUnits="userSpaceOnUse" x="1704.0" y="893.6" width="121.0" height="61.4"><path d="M1718.0,901.6 C1728.2,899.6 1741.2,899.6 1764.5,899.6 C1787.8,899.6 1800.8,899.6 1811.0,901.6 C1812.5,924.3 1814.6,939.1 1817.0,944.6 C1805.5,949.0 1790.8,949.0 1764.5,949.0 C1738.2,949.0 1723.5,949.0 1712.0,944.6 C1714.4,939.1 1716.5,924.3 1718.0,901.6 Z" fill="#fff" filter="url(#bl)"/></mask>
<g mask="url(#c35)">
<rect x="1706.0" y="895.6" width="117.0" height="57.4" fill="url(#gh)"/>
<g filter="url(#bl2)"><path d="M1742.3,889.6 L1786.7,889.6 L1799.3,959.0 L1729.7,959.0 Z" fill="#ecdc50"/></g>
<g filter="url(#bl3)"><path d="M1752.5,901.1 L1776.5,901.1 L1792.4,952.0 L1736.6,952.0 Z" fill="#eee856" stroke="#f4ee62" stroke-width="1.6"/></g>
<rect x="1717.2" y="911.0" width="94.5" height="40.0" fill="url(#gw)"/>
<g filter="url(#bl4)"><rect x="1741.2" y="899.3" width="46.5" height="1.8" fill="#fae890" opacity="0.9"/></g>
</g>
<mask id="c36" maskUnits="userSpaceOnUse" x="1704.0" y="977.5" width="121.0" height="38.5"><path d="M1718.0,985.5 C1728.2,983.5 1741.2,983.5 1764.5,983.5 C1787.8,983.5 1800.8,983.5 1811.0,985.5 C1812.5,996.8 1814.6,1004.7 1817.0,1005.6 C1805.5,1010.0 1790.8,1010.0 1764.5,1010.0 C1738.2,1010.0 1723.5,1010.0 1712.0,1005.6 C1714.4,1004.7 1716.5,996.8 1718.0,985.5 Z" fill="#fff" filter="url(#bl)"/></mask>
<g mask="url(#c36)">
<rect x="1706.0" y="979.5" width="117.0" height="34.5" fill="url(#gh)"/>
<g filter="url(#bl2)"><path d="M1743.9,973.5 L1785.1,973.5 L1800.9,1020.0 L1728.1,1020.0 Z" fill="#ecdc50"/></g>
<g filter="url(#bl3)"><path d="M1752.5,985.0 L1776.5,985.0 L1793.2,1013.0 L1735.8,1013.0 Z" fill="#eee856" stroke="#f4ee62" stroke-width="1.6"/></g>
<rect x="1717.2" y="982.2" width="94.5" height="29.8" fill="url(#gw)"/>
<g filter="url(#bl4)"><rect x="1741.2" y="983.2" width="46.5" height="1.8" fill="#fae890" opacity="0.9"/></g>
</g>
</g>
<text transform="translate(1368.5 1013.0) scale(1.03 1)" font-family='"Liberation Sans", "DejaVu Sans", sans-serif' font-size="32" font-weight="normal" font-style="normal" text-anchor="start" fill="#000" >-1.5</text>
<text transform="translate(1452.0 1013.0) scale(1.03 1)" font-family='"Liberation Sans", "DejaVu Sans", sans-serif' font-size="32" font-weight="normal" font-style="normal" text-anchor="start" fill="#000" >-1</text>
<text transform="translate(1524.0 1013.0) scale(1.03 1)" font-family='"Liberation Sans", "DejaVu Sans", sans-serif' font-size="32" font-weight="normal" font-style="normal" text-anchor="start" fill="#000" clip-path="url(#clipm)">-0.5</text>
<text transform="translate(1622.0 1013.0) scale(1.03 1)" font-family='"Liberation Sans", "DejaVu Sans", sans-serif' font-size="32" font-weight="normal" font-style="normal" text-anchor="start" fill="#000" >0</text>
<text transform="translate(1678.0 1013.0) scale(1.03 1)" font-family='"Liberation Sans", "DejaVu Sans", sans-serif' font-size="32" font-weight="normal" font-style="normal" text-anchor="start" fill="#000" >0.5</text>
<text transform="translate(1790.0 1013.0) scale(1.03 1)" font-family='"Liberation Sans", "DejaVu Sans", sans-serif' font-size="32" font-weight="normal" font-style="normal" text-anchor="start" fill="#000" >1</text>
<text transform="translate(1851.0 1013.0) scale(1.03 1)" font-family='"Liberation Sans", "DejaVu Sans", sans-serif' font-size="32" font-weight="normal" font-style="normal" text-anchor="start" fill="#000" >1.5</text>
<text transform="translate(1384.0 603.0) scale(1.03 1)" font-family='"Liberation Sans", "DejaVu Sans", sans-serif' font-size="32" font-weight="normal" font-style="normal" text-anchor="end" fill="#000" >8</text>
<text transform="translate(1384.0 700.0) scale(1.03 1)" font-family='"Liberation Sans", "DejaVu Sans", sans-serif' font-size="32" font-weight="normal" font-style="normal" text-anchor="end" fill="#000" >6</text>
<text transform="translate(1384.0 804.5) scale(1.03 1)" font-family='"Liberation Sans", "DejaVu Sans", sans-serif' font-size="32" font-weight="normal" font-style="normal" text-anchor="end" fill="#000" >4</text>
<text transform="translate(1384.0 900.5) scale(1.03 1)" font-family='"Liberation Sans", "DejaVu Sans", sans-serif' font-size="32" font-weight="normal" font-style="normal" text-anchor="end" fill="#000" >2</text>
<text transform="translate(1384.0 993.0) scale(1.03 1)" font-family='"Liberation Sans", "DejaVu Sans", sans-serif' font-size="32" font-weight="normal" font-style="normal" text-anchor="end" fill="#000" >0</text>
<text transform="translate(1630.0 1038.0)" font-family='"Liberation Serif", "DejaVu Serif", serif' font-size="52" font-weight="normal" font-style="italic" text-anchor="middle" fill="#4a4a4a" >x</text>
<clipPath id="clipm" clipPathUnits="userSpaceOnUse"><rect x="7.5" y="-30" width="80" height="40"/></clipPath>
<rect x="1382.7" y="703.3" width="14.3" height="32.6" fill="#2a4cc0"/>
<rect x="1886.9" y="733.6" width="11.1" height="46.4" fill="#e0604a"/>
<rect x="1924.2" y="589.6" width="22.8" height="395.7" fill="url(#gcb)"/>
<line x1="1924.2" y1="589.5" x2="1947.3" y2="589.5" stroke="#3a3a3a" stroke-width="1" />
<line x1="1946.8" y1="589.0" x2="1946.8" y2="985.3" stroke="#4a4a40" stroke-width="0.7" opacity="0.75"/>
<line x1="1947.3" y1="573.5" x2="1978.6" y2="573.5" stroke="#dcdcdc" stroke-width="1" />
<line x1="1978.6" y1="573.5" x2="1984.5" y2="573.5" stroke="#9a9a9a" stroke-width="1.2" />
<line x1="1901.0" y1="311.9" x2="1964.0" y2="311.9" stroke="#f0f0f0" stroke-width="1.2" />
<line x1="1964.1" y1="311.9" x2="1970.5" y2="311.9" stroke="#8a8a8a" stroke-width="1.5" />
<line x1="1924.2" y1="787.3" x2="1947.0" y2="787.3" stroke="#5a2a20" stroke-width="1" />
<text transform="translate(1952.0 603.0) scale(1.03 1)" font-family='"Liberation Sans", "DejaVu Sans", sans-serif' font-size="32" font-weight="normal" font-style="normal" text-anchor="start" fill="#000" >1.5</text>
<text transform="translate(1957.5 794.5) scale(1.03 1)" font-family='"Liberation Sans", "DejaVu Sans", sans-serif' font-size="32" font-weight="normal" font-style="normal" text-anchor="start" fill="#000" >1</text>
<text transform="translate(1950.0 993.0) scale(1.03 1)" font-family='"Liberation Sans", "DejaVu Sans", sans-serif' font-size="32" font-weight="normal" font-style="normal" text-anchor="start" fill="#000" >0.5</text>
<text transform="translate(1920.0 581.0)" font-family='"Liberation Serif", "DejaVu Serif", serif' font-size="62" font-weight="normal" font-style="italic" text-anchor="start" fill="#262626" >u</text>
<rect x="358.6" y="1107.1" width="638.4" height="455.9000000000001" fill="#fdfdfb" stroke="#5a5a5a" stroke-width="1.3"/>
<line x1="438.4" y1="1563.0" x2="438.4" y2="1556.0" stroke="#5a5a5a" stroke-width="1.2" />
<line x1="438.4" y1="1107.1" x2="438.4" y2="1114.1" stroke="#5a5a5a" stroke-width="1.2" />
<line x1="598.0" y1="1563.0" x2="598.0" y2="1556.0" stroke="#5a5a5a" stroke-width="1.2" />
<line x1="598.0" y1="1107.1" x2="598.0" y2="1114.1" stroke="#5a5a5a" stroke-width="1.2" />
<line x1="757.8" y1="1563.0" x2="757.8" y2="1556.0" stroke="#5a5a5a" stroke-width="1.2" />
<line x1="757.8" y1="1107.1" x2="757.8" y2="1114.1" stroke="#5a5a5a" stroke-width="1.2" />
<line x1="917.2" y1="1563.0" x2="917.2" y2="1556.0" stroke="#5a5a5a" stroke-width="1.2" />
<line x1="917.2" y1="1107.1" x2="917.2" y2="1114.1" stroke="#5a5a5a" stroke-width="1.2" />
<line x1="358.6" y1="1157.6" x2="365.6" y2="1157.6" stroke="#5a5a5a" stroke-width="1.2" />
<line x1="997.0" y1="1157.6" x2="990.0" y2="1157.6" stroke="#5a5a5a" stroke-width="1.2" />
<line x1="358.6" y1="1259.1" x2="365.6" y2="1259.1" stroke="#5a5a5a" stroke-width="1.2" />
<line x1="997.0" y1="1259.1" x2="990.0" y2="1259.1" stroke="#5a5a5a" stroke-width="1.2" />
<line x1="358.6" y1="1360.5" x2="365.6" y2="1360.5" stroke="#5a5a5a" stroke-width="1.2" />
<line x1="997.0" y1="1360.5" x2="990.0" y2="1360.5" stroke="#5a5a5a" stroke-width="1.2" />
<line x1="358.6" y1="1461.6" x2="365.6" y2="1461.6" stroke="#5a5a5a" stroke-width="1.2" />
<line x1="997.0" y1="1461.6" x2="990.0" y2="1461.6" stroke="#5a5a5a" stroke-width="1.2" />
<clipPath id="cg"><rect x="358.6" y="1107.1" width="638.4" height="455.9000000000001"/></clipPath>
<g clip-path="url(#cg)"><path d="M374.0,1091.7 L381.0,1110.2 L388.0,1126.5 L395.0,1141.0 L402.0,1154.1 L409.0,1166.0 L416.0,1176.9 L423.0,1186.9 L430.0,1196.0 L437.0,1204.6 L444.0,1212.5 L451.0,1219.9 L458.0,1226.9 L465.0,1233.4 L472.0,1239.6 L479.0,1245.4 L486.0,1251.0 L493.0,1256.2 L500.0,1261.2 L507.0,1266.0 L514.0,1270.6 L521.0,1275.0 L528.0,1279.3 L535.0,1283.3 L542.0,1287.2 L549.0,1291.0 L556.0,1294.7 L563.0,1298.2 L570.0,1301.6 L577.0,1304.9 L584.0,1308.1 L591.0,1311.2 L598.0,1314.3 L605.0,1317.2 L612.0,1320.1 L619.0,1322.9 L626.0,1325.7 L633.0,1328.3 L640.0,1331.0 L647.0,1333.5 L654.0,1336.0 L661.0,1338.5 L668.0,1340.9 L675.0,1343.2 L682.0,1345.5 L689.0,1347.8 L696.0,1350.0 L703.0,1352.2 L710.0,1354.4 L717.0,1356.5 L724.0,1358.6 L731.0,1360.6 L738.0,1362.6 L745.0,1364.6 L752.0,1366.6 L759.0,1368.5 L766.0,1370.4 L773.0,1372.3 L780.0,1374.1 L787.0,1376.0 L794.0,1377.8 L801.0,1379.5 L808.0,1381.3 L815.0,1383.1 L822.0,1384.8 L829.0,1386.5 L836.0,1388.2 L843.0,1389.8 L850.0,1391.5 L857.0,1393.1 L864.0,1394.7 L871.0,1396.3 L878.0,1397.9 L885.0,1399.5 L892.0,1401.0 L899.0,1402.5 L906.0,1404.1 L913.0,1405.6 L920.0,1407.1 L927.0,1408.6 L934.0,1410.0 L941.0,1411.5 L948.0,1412.9 L955.0,1414.4 L962.0,1415.8 L969.0,1417.2 L976.0,1418.6 L983.0,1420.0 L990.0,1421.4 L997.0,1422.8 L1004.0,1424.1" fill="none" stroke="#151515" stroke-width="3.9" stroke-linejoin="round"/></g>
<circle cx="475.8" cy="1138.3" r="4.4" fill="#3b4676"/>
<circle cx="490.4" cy="1171.0" r="4.4" fill="#3b4676"/>
<circle cx="505.1" cy="1195.0" r="4.4" fill="#3b4676"/>
<circle cx="519.7" cy="1215.5" r="4.4" fill="#3b4676"/>
<circle cx="534.4" cy="1232.9" r="4.4" fill="#3b4676"/>
<circle cx="549.0" cy="1247.1" r="4.4" fill="#3b4676"/>
<circle cx="563.7" cy="1260.1" r="4.4" fill="#3b4676"/>
<circle cx="578.3" cy="1272.0" r="4.4" fill="#3b4676"/>
<circle cx="593.0" cy="1282.4" r="4.4" fill="#3b4676"/>
<circle cx="607.6" cy="1291.4" r="4.4" fill="#3b4676"/>
<circle cx="622.2" cy="1300.2" r="4.4" fill="#3b4676"/>
<circle cx="636.9" cy="1308.8" r="4.4" fill="#3b4676"/>
<circle cx="651.5" cy="1316.8" r="4.4" fill="#3b4676"/>
<circle cx="666.2" cy="1322.8" r="4.4" fill="#3b4676"/>
<circle cx="680.8" cy="1329.7" r="4.4" fill="#3b4676"/>
<circle cx="695.5" cy="1335.7" r="4.4" fill="#3b4676"/>
<circle cx="710.1" cy="1342.7" r="4.4" fill="#3b4676"/>
<circle cx="724.8" cy="1348.4" r="4.4" fill="#3b4676"/>
<circle cx="739.4" cy="1354.3" r="4.4" fill="#3b4676"/>
<circle cx="754.1" cy="1360.3" r="4.4" fill="#3b4676"/>
<circle cx="768.7" cy="1363.1" r="4.4" fill="#3b4676"/>
<circle cx="783.3" cy="1368.6" r="4.4" fill="#3b4676"/>
<circle cx="798.0" cy="1372.2" r="4.4" fill="#3b4676"/>
<circle cx="812.6" cy="1377.7" r="4.4" fill="#3b4676"/>
<circle cx="827.3" cy="1382.8" r="4.4" fill="#3b4676"/>
<circle cx="841.9" cy="1386.5" r="4.4" fill="#3b4676"/>
<circle cx="856.6" cy="1390.9" r="4.4" fill="#3b4676"/>
<circle cx="871.2" cy="1395.8" r="4.4" fill="#3b4676"/>
<circle cx="885.9" cy="1399.7" r="4.4" fill="#3b4676"/>
<circle cx="900.5" cy="1403.8" r="4.4" fill="#3b4676"/>
<circle cx="915.1" cy="1406.9" r="4.4" fill="#3b4676"/>
<circle cx="929.8" cy="1409.8" r="4.4" fill="#3b4676"/>
<circle cx="944.4" cy="1413.9" r="4.4" fill="#3b4676"/>
<circle cx="959.1" cy="1418.0" r="4.4" fill="#3b4676"/>
<circle cx="973.7" cy="1421.2" r="4.4" fill="#3b4676"/>
<circle cx="988.4" cy="1425.3" r="4.4" fill="#3b4676"/>
<text transform="translate(325.9 1166.9) scale(0.9315817365352996 1)" font-family='"Liberation Sans", "DejaVu Sans", sans-serif' font-size="32.3" font-weight="normal" font-style="normal" text-anchor="start" fill="#000" >2</text>
<text transform="translate(312.4 1272.8) scale(0.9042920462391704 1)" font-family='"Liberation Sans", "DejaVu Sans", sans-serif' font-size="32.3" font-weight="normal" font-style="normal" text-anchor="start" fill="#000" >1.5</text>
<text transform="translate(326.7 1370.6) scale(0.591303377681088 1)" font-family='"Liberation Sans", "DejaVu Sans", sans-serif' font-size="32.3" font-weight="normal" font-style="normal" text-anchor="start" fill="#000" >1</text>
<text transform="translate(307.4 1473.0) scale(0.986702897743725 1)" font-family='"Liberation Sans", "DejaVu Sans", sans-serif' font-size="32.3" font-weight="normal" font-style="normal" text-anchor="start" fill="#000" >0.5</text>
<text transform="translate(334.0 1572.2) scale(0.9315817365352964 1)" font-family='"Liberation Sans", "DejaVu Sans", sans-serif' font-size="32.3" font-weight="normal" font-style="normal" text-anchor="start" fill="#000" >0</text>
<text transform="translate(416.7 1594.3) scale(0.9978394992983945 1)" font-family='"Liberation Sans", "DejaVu Sans", sans-serif' font-size="32.3" font-weight="normal" font-style="normal" text-anchor="start" fill="#000" >0.8</text>
<text transform="translate(564.8 1594.3) scale(1.02059876717392 1)" font-family='"Liberation Sans", "DejaVu Sans", sans-serif' font-size="32.3" font-weight="normal" font-style="normal" text-anchor="start" fill="#000" >0.82</text>
<text transform="translate(728.0 1594.3) scale(1.007881025526892 1)" font-family='"Liberation Sans", "DejaVu Sans", sans-serif' font-size="32.3" font-weight="normal" font-style="normal" text-anchor="start" fill="#000" >0.84</text>
<text transform="translate(886.0 1594.3) scale(1.0094707432327705 1)" font-family='"Liberation Sans", "DejaVu Sans", sans-serif' font-size="32.3" font-weight="normal" font-style="normal" text-anchor="start" fill="#000" >0.86</text>
<text transform="translate(276.0 1487.6) rotate(-90) scale(0.7746639325586694 1)" font-family='"Liberation Serif", "DejaVu Serif", serif' font-size="76" font-weight="normal" font-style="italic" text-anchor="start" fill="#4a4a4a" >T (seconds)</text>
<text transform="translate(650.3 1626.0)" font-family='"Liberation Serif", "DejaVu Serif", serif' font-size="63" font-weight="normal" font-style="italic" text-anchor="start" fill="#333" >I</text>
<text transform="translate(674.4 1636.0)" font-family='"Liberation Serif", "DejaVu Serif", serif' font-size="43" font-weight="normal" font-style="italic" text-anchor="start" fill="#333" >0</text>
<rect x="1164.6" y="1098.9" width="671.3000000000002" height="465.5999999999999" fill="#ffffff" stroke="#5a5a5a" stroke-width="1.3"/>
<line x1="1299.1" y1="1564.5" x2="1299.1" y2="1557.5" stroke="#5a5a5a" stroke-width="1.2" />
<line x1="1299.1" y1="1098.9" x2="1299.1" y2="1105.9" stroke="#5a5a5a" stroke-width="1.2" />
<line x1="1433.6" y1="1564.5" x2="1433.6" y2="1557.5" stroke="#5a5a5a" stroke-width="1.2" />
<line x1="1433.6" y1="1098.9" x2="1433.6" y2="1105.9" stroke="#5a5a5a" stroke-width="1.2" />
<line x1="1567.8" y1="1564.5" x2="1567.8" y2="1557.5" stroke="#5a5a5a" stroke-width="1.2" />
<line x1="1567.8" y1="1098.9" x2="1567.8" y2="1105.9" stroke="#5a5a5a" stroke-width="1.2" />
<line x1="1702.0" y1="1564.5" x2="1702.0" y2="1557.5" stroke="#5a5a5a" stroke-width="1.2" />
<line x1="1702.0" y1="1098.9" x2="1702.0" y2="1105.9" stroke="#5a5a5a" stroke-width="1.2" />
<line x1="1164.6" y1="1150.3" x2="1171.6" y2="1150.3" stroke="#5a5a5a" stroke-width="1.2" />
<line x1="1835.9" y1="1150.3" x2="1828.9" y2="1150.3" stroke="#5a5a5a" stroke-width="1.2" />
<line x1="1164.6" y1="1201.9" x2="1171.6" y2="1201.9" stroke="#5a5a5a" stroke-width="1.2" />
<line x1="1835.9" y1="1201.9" x2="1828.9" y2="1201.9" stroke="#5a5a5a" stroke-width="1.2" />
<line x1="1164.6" y1="1253.5" x2="1171.6" y2="1253.5" stroke="#5a5a5a" stroke-width="1.2" />
<line x1="1835.9" y1="1253.5" x2="1828.9" y2="1253.5" stroke="#5a5a5a" stroke-width="1.2" />
<line x1="1164.6" y1="1305.4" x2="1171.6" y2="1305.4" stroke="#5a5a5a" stroke-width="1.2" />
<line x1="1835.9" y1="1305.4" x2="1828.9" y2="1305.4" stroke="#5a5a5a" stroke-width="1.2" />
<line x1="1164.6" y1="1357.3" x2="1171.6" y2="1357.3" stroke="#5a5a5a" stroke-width="1.2" />
<line x1="1835.9" y1="1357.3" x2="1828.9" y2="1357.3" stroke="#5a5a5a" stroke-width="1.2" />
<line x1="1164.6" y1="1409.2" x2="1171.6" y2="1409.2" stroke="#5a5a5a" stroke-width="1.2" />
<line x1="1835.9" y1="1409.2" x2="1828.9" y2="1409.2" stroke="#5a5a5a" stroke-width="1.2" />
<line x1="1164.6" y1="1460.9" x2="1171.6" y2="1460.9" stroke="#5a5a5a" stroke-width="1.2" />
<line x1="1835.9" y1="1460.9" x2="1828.9" y2="1460.9" stroke="#5a5a5a" stroke-width="1.2" />
<line x1="1164.6" y1="1512.7" x2="1171.6" y2="1512.7" stroke="#5a5a5a" stroke-width="1.2" />
<line x1="1835.9" y1="1512.7" x2="1828.9" y2="1512.7" stroke="#5a5a5a" stroke-width="1.2" />
<clipPath id="ch"><rect x="1164.6" y="1098.9" width="671.3000000000002" height="465.5999999999999"/></clipPath>
<line x1="1164.6" y1="1316.5" x2="1835.9" y2="1315.5" stroke="#8a8c88" stroke-width="7" />
<g clip-path="url(#ch)"><path d="M1186.0,1081.7 L1193.3,1099.3 L1200.6,1115.2 L1207.9,1129.6 L1215.2,1142.7 L1222.4,1154.7 L1229.7,1165.8 L1237.0,1176.1 L1244.3,1185.6 L1251.6,1194.5 L1258.9,1202.8 L1266.2,1210.6 L1273.5,1218.0 L1280.8,1224.9 L1288.0,1231.5 L1295.3,1237.7 L1302.6,1243.6 L1309.9,1249.2 L1317.2,1254.6 L1324.5,1259.7 L1331.8,1264.7 L1339.1,1269.4 L1346.4,1273.9 L1353.6,1278.3 L1360.9,1282.5 L1368.2,1286.5 L1375.5,1290.4 L1382.8,1294.2 L1390.1,1297.9 L1397.4,1301.4 L1404.7,1304.8 L1412.0,1308.2 L1419.2,1311.4 L1426.5,1314.5 L1433.8,1317.6 L1441.1,1320.6 L1448.4,1323.5 L1455.7,1326.3 L1463.0,1329.1 L1470.3,1331.8 L1477.6,1334.4 L1484.8,1337.0 L1492.1,1339.6 L1499.4,1342.0 L1506.7,1344.5 L1514.0,1346.8 L1521.3,1349.2 L1528.6,1351.4 L1535.9,1353.7 L1543.2,1355.9 L1550.4,1358.1 L1557.7,1360.2 L1565.0,1362.3 L1572.3,1364.3 L1579.6,1366.4 L1586.9,1368.4 L1594.2,1370.3 L1601.5,1372.3 L1608.8,1374.2 L1616.0,1376.0 L1623.3,1377.9 L1630.6,1379.7 L1637.9,1381.5 L1645.2,1383.3 L1652.5,1385.1 L1659.8,1386.8 L1667.1,1388.5 L1674.4,1390.2 L1681.6,1391.9 L1688.9,1393.5 L1696.2,1395.2 L1703.5,1396.8 L1710.8,1398.4 L1718.1,1400.0 L1725.4,1401.5 L1732.7,1403.1 L1740.0,1404.6 L1747.2,1406.2 L1754.5,1407.7 L1761.8,1409.2 L1769.1,1410.6 L1776.4,1412.1 L1783.7,1413.5 L1791.0,1415.0 L1798.3,1416.4 L1805.6,1417.8 L1812.8,1419.2 L1820.1,1420.6 L1827.4,1422.0 L1834.7,1423.4 L1842.0,1424.7" fill="none" stroke="#1a1a1a" stroke-width="7.2" stroke-linejoin="round"/></g>
<circle cx="1164.6" cy="1284.7" r="4.4" fill="#b8393c"/>
<circle cx="1178.3" cy="1284.7" r="4.4" fill="#b8393c"/>
<circle cx="1192.0" cy="1287.3" r="4.4" fill="#b8393c"/>
<circle cx="1205.7" cy="1287.3" r="4.4" fill="#b8393c"/>
<circle cx="1219.4" cy="1289.9" r="4.4" fill="#b8393c"/>
<circle cx="1233.1" cy="1289.9" r="4.4" fill="#b8393c"/>
<circle cx="1246.8" cy="1289.9" r="4.4" fill="#b8393c"/>
<circle cx="1260.5" cy="1292.4" r="4.4" fill="#b8393c"/>
<circle cx="1274.2" cy="1292.4" r="4.4" fill="#b8393c"/>
<circle cx="1287.9" cy="1292.4" r="4.4" fill="#b8393c"/>
<circle cx="1301.6" cy="1295.0" r="4.4" fill="#b8393c"/>
<circle cx="1315.3" cy="1295.0" r="4.4" fill="#b8393c"/>
<circle cx="1329.0" cy="1295.0" r="4.4" fill="#b8393c"/>
<circle cx="1342.7" cy="1297.6" r="4.4" fill="#b8393c"/>
<circle cx="1356.4" cy="1297.6" r="4.4" fill="#b8393c"/>
<circle cx="1370.1" cy="1300.2" r="4.4" fill="#b8393c"/>
<circle cx="1383.8" cy="1300.2" r="4.4" fill="#b8393c"/>
<circle cx="1397.5" cy="1300.2" r="4.4" fill="#b8393c"/>
<circle cx="1411.2" cy="1302.8" r="4.4" fill="#b8393c"/>
<circle cx="1424.9" cy="1302.8" r="4.4" fill="#b8393c"/>
<circle cx="1438.6" cy="1302.8" r="4.4" fill="#b8393c"/>
<circle cx="1452.3" cy="1305.4" r="4.4" fill="#b8393c"/>
<circle cx="1466.0" cy="1305.4" r="4.4" fill="#b8393c"/>
<circle cx="1479.7" cy="1305.4" r="4.4" fill="#b8393c"/>
<circle cx="1493.4" cy="1308.0" r="4.4" fill="#b8393c"/>
<circle cx="1507.1" cy="1308.0" r="4.4" fill="#b8393c"/>
<circle cx="1520.8" cy="1310.6" r="4.4" fill="#b8393c"/>
<circle cx="1534.5" cy="1310.6" r="4.4" fill="#b8393c"/>
<circle cx="1548.2" cy="1310.6" r="4.4" fill="#b8393c"/>
<circle cx="1561.9" cy="1313.2" r="4.4" fill="#b8393c"/>
<circle cx="1575.6" cy="1313.2" r="4.4" fill="#b8393c"/>
<circle cx="1589.3" cy="1313.2" r="4.4" fill="#b8393c"/>
<circle cx="1603.0" cy="1315.8" r="4.4" fill="#b8393c"/>
<circle cx="1616.7" cy="1315.8" r="4.4" fill="#b8393c"/>
<circle cx="1630.4" cy="1318.4" r="4.4" fill="#b8393c"/>
<circle cx="1644.1" cy="1318.4" r="4.4" fill="#b8393c"/>
<circle cx="1657.8" cy="1318.4" r="4.4" fill="#b8393c"/>
<circle cx="1671.5" cy="1320.9" r="4.4" fill="#b8393c"/>
<circle cx="1685.2" cy="1320.9" r="4.4" fill="#b8393c"/>
<circle cx="1698.9" cy="1320.9" r="4.4" fill="#b8393c"/>
<circle cx="1712.6" cy="1323.5" r="4.4" fill="#b8393c"/>
<circle cx="1726.3" cy="1323.5" r="4.4" fill="#b8393c"/>
<circle cx="1740.0" cy="1323.5" r="4.4" fill="#b8393c"/>
<circle cx="1753.7" cy="1326.1" r="4.4" fill="#b8393c"/>
<circle cx="1767.4" cy="1326.1" r="4.4" fill="#b8393c"/>
<circle cx="1781.1" cy="1328.7" r="4.4" fill="#b8393c"/>
<circle cx="1794.8" cy="1328.7" r="4.4" fill="#b8393c"/>
<circle cx="1808.5" cy="1328.7" r="4.4" fill="#b8393c"/>
<circle cx="1822.2" cy="1331.3" r="4.4" fill="#b8393c"/>
<circle cx="1835.9" cy="1331.3" r="4.4" fill="#b8393c"/>
<circle cx="1233.1" cy="1127.2" r="4.4" fill="#3c4a8c"/>
<circle cx="1246.8" cy="1150.5" r="4.4" fill="#3c4a8c"/>
<circle cx="1260.5" cy="1168.4" r="4.4" fill="#3c4a8c"/>
<circle cx="1274.2" cy="1186.3" r="4.4" fill="#3c4a8c"/>
<circle cx="1287.9" cy="1201.9" r="4.4" fill="#3c4a8c"/>
<circle cx="1301.6" cy="1215.0" r="4.4" fill="#3c4a8c"/>
<circle cx="1315.3" cy="1228.2" r="4.4" fill="#3c4a8c"/>
<circle cx="1329.0" cy="1238.3" r="4.4" fill="#3c4a8c"/>
<circle cx="1342.7" cy="1248.7" r="4.4" fill="#3c4a8c"/>
<circle cx="1356.4" cy="1259.0" r="4.4" fill="#3c4a8c"/>
<circle cx="1370.1" cy="1269.2" r="4.4" fill="#3c4a8c"/>
<circle cx="1383.8" cy="1277.0" r="4.4" fill="#3c4a8c"/>
<circle cx="1397.5" cy="1284.7" r="4.4" fill="#3c4a8c"/>
<circle cx="1411.2" cy="1292.5" r="4.4" fill="#3c4a8c"/>
<circle cx="1424.9" cy="1297.9" r="4.4" fill="#3c4a8c"/>
<circle cx="1438.6" cy="1305.6" r="4.4" fill="#3c4a8c"/>
<circle cx="1452.3" cy="1311.2" r="4.4" fill="#3c4a8c"/>
<circle cx="1466.0" cy="1318.2" r="4.4" fill="#3c4a8c"/>
<circle cx="1479.7" cy="1323.7" r="4.4" fill="#3c4a8c"/>
<circle cx="1493.4" cy="1329.0" r="4.4" fill="#3c4a8c"/>
<circle cx="1507.1" cy="1334.2" r="4.4" fill="#3c4a8c"/>
<circle cx="1520.8" cy="1339.3" r="4.4" fill="#3c4a8c"/>
<circle cx="1534.5" cy="1344.5" r="4.4" fill="#3c4a8c"/>
<circle cx="1548.2" cy="1349.6" r="4.4" fill="#3c4a8c"/>
<circle cx="1561.9" cy="1354.6" r="4.4" fill="#3c4a8c"/>
<circle cx="1575.6" cy="1357.2" r="4.4" fill="#3c4a8c"/>
<circle cx="1589.3" cy="1362.7" r="4.4" fill="#3c4a8c"/>
<circle cx="1603.0" cy="1365.6" r="4.4" fill="#3c4a8c"/>
<circle cx="1616.7" cy="1367.1" r="4.4" fill="#3c4a8c"/>
<circle cx="1630.4" cy="1373.0" r="4.4" fill="#3c4a8c"/>
<circle cx="1644.1" cy="1375.9" r="4.4" fill="#3c4a8c"/>
<circle cx="1657.8" cy="1378.3" r="4.4" fill="#3c4a8c"/>
<circle cx="1671.5" cy="1380.5" r="4.4" fill="#3c4a8c"/>
<circle cx="1685.2" cy="1383.5" r="4.4" fill="#3c4a8c"/>
<circle cx="1698.9" cy="1385.7" r="4.4" fill="#3c4a8c"/>
<circle cx="1712.6" cy="1391.2" r="4.4" fill="#3c4a8c"/>
<circle cx="1726.3" cy="1393.4" r="4.4" fill="#3c4a8c"/>
<circle cx="1740.0" cy="1393.4" r="4.4" fill="#3c4a8c"/>
<circle cx="1753.7" cy="1398.9" r="4.4" fill="#3c4a8c"/>
<circle cx="1767.4" cy="1401.5" r="4.4" fill="#3c4a8c"/>
<circle cx="1781.1" cy="1403.9" r="4.4" fill="#3c4a8c"/>
<circle cx="1794.8" cy="1406.5" r="4.4" fill="#3c4a8c"/>
<circle cx="1808.5" cy="1409.2" r="4.4" fill="#3c4a8c"/>
<circle cx="1822.2" cy="1412.0" r="4.4" fill="#3c4a8c"/>
<circle cx="1835.9" cy="1414.6" r="4.4" fill="#3c4a8c"/>
<text transform="translate(1113.3 1108.8) scale(0.955520413390652 1)" font-family='"Liberation Sans", "DejaVu Sans", sans-serif' font-size="32.3" font-weight="normal" font-style="normal" text-anchor="start" fill="#000" >1.8</text>
<text transform="translate(1113.3 1161.0) scale(0.955520413390652 1)" font-family='"Liberation Sans", "DejaVu Sans", sans-serif' font-size="32.3" font-weight="normal" font-style="normal" text-anchor="start" fill="#000" >1.6</text>
<text transform="translate(1113.3 1214.4) scale(0.9867028977437237 1)" font-family='"Liberation Sans", "DejaVu Sans", sans-serif' font-size="32.3" font-weight="normal" font-style="normal" text-anchor="start" fill="#000" >1.4</text>
<text transform="translate(1113.3 1265.0) scale(0.9733389758781222 1)" font-family='"Liberation Sans", "DejaVu Sans", sans-serif' font-size="32.3" font-weight="normal" font-style="normal" text-anchor="start" fill="#000" >1.2</text>
<text transform="translate(1131.7 1317.3) scale(0.6080383789362043 1)" font-family='"Liberation Sans", "DejaVu Sans", sans-serif' font-size="32.3" font-weight="normal" font-style="normal" text-anchor="start" fill="#000" >1</text>
<text transform="translate(1113.5 1370.8) scale(0.9956121789874613 1)" font-family='"Liberation Sans", "DejaVu Sans", sans-serif' font-size="32.3" font-weight="normal" font-style="normal" text-anchor="start" fill="#000" >0.8</text>
<text transform="translate(1113.5 1421.2) scale(0.9956121789874613 1)" font-family='"Liberation Sans", "DejaVu Sans", sans-serif' font-size="32.3" font-weight="normal" font-style="normal" text-anchor="start" fill="#000" >0.6</text>
<text transform="translate(1113.5 1473.0) scale(0.9956121789874613 1)" font-family='"Liberation Sans", "DejaVu Sans", sans-serif' font-size="32.3" font-weight="normal" font-style="normal" text-anchor="start" fill="#000" >0.4</text>
<text transform="translate(1113.5 1522.0) scale(0.9956121789874613 1)" font-family='"Liberation Sans", "DejaVu Sans", sans-serif' font-size="32.3" font-weight="normal" font-style="normal" text-anchor="start" fill="#000" >0.2</text>
<text transform="translate(1128.9 1572.2) scale(0.9650517390455448 1)" font-family='"Liberation Sans", "DejaVu Sans", sans-serif' font-size="32.3" font-weight="normal" font-style="normal" text-anchor="start" fill="#000" >0</text>
<text transform="translate(1144.8 1595.0) scale(0.9755662961890541 1)" font-family='"Liberation Sans", "DejaVu Sans", sans-serif' font-size="32.3" font-weight="normal" font-style="normal" text-anchor="start" fill="#000" >0.8</text>
<text transform="translate(1262.4 1594.0) scale(1.0126501786445246 1)" font-family='"Liberation Sans", "DejaVu Sans", sans-serif' font-size="32.3" font-weight="normal" font-style="normal" text-anchor="start" fill="#000" >0.82</text>
<text transform="translate(1394.8 1594.0) scale(1.014239896350405 1)" font-family='"Liberation Sans", "DejaVu Sans", sans-serif' font-size="32.3" font-weight="normal" font-style="normal" text-anchor="start" fill="#000" >0.84</text>
<text transform="translate(1534.0 1594.0) scale(1.0094707432327705 1)" font-family='"Liberation Sans", "DejaVu Sans", sans-serif' font-size="32.3" font-weight="normal" font-style="normal" text-anchor="start" fill="#000" >0.86</text>
<text transform="translate(1673.0 1594.0) scale(1.0015221547033788 1)" font-family='"Liberation Sans", "DejaVu Sans", sans-serif' font-size="32.3" font-weight="normal" font-style="normal" text-anchor="start" fill="#000" >0.88</text>
<text transform="translate(1316.0 1207.5) scale(0.9004048582995952 1)" font-family='"Liberation Serif", "DejaVu Serif", serif' font-size="50" font-weight="normal" font-style="italic" text-anchor="start" fill="#1a1a1a" >T</text>
<text transform="translate(1335.3 1217.8) scale(0.9277014770665974 1)" font-family='"Liberation Serif", "DejaVu Serif", serif' font-size="34" font-weight="normal" font-style="italic" text-anchor="start" fill="#1a1a1a" >L</text>
<text transform="translate(1719.0 1301.4) scale(0.9263157894736842 1)" font-family='"Liberation Serif", "DejaVu Serif", serif' font-size="50" font-weight="normal" font-style="italic" text-anchor="start" fill="#1a1a1a" >T</text>
<text transform="translate(1736.8 1309.0) scale(0.8906882591093117 1)" font-family='"Liberation Serif", "DejaVu Serif", serif' font-size="34" font-weight="normal" font-style="italic" text-anchor="start" fill="#1a1a1a" >R</text>
<text transform="translate(1480.3 1625.8)" font-family='"Liberation Serif", "DejaVu Serif", serif' font-size="67" font-weight="normal" font-style="italic" text-anchor="start" fill="#333" >I</text>
<text transform="translate(1501.3 1635.7)" font-family='"Liberation Serif", "DejaVu Serif", serif' font-size="41" font-weight="normal" font-style="italic" text-anchor="start" fill="#333" >R</text>
</svg>
</body></html>
